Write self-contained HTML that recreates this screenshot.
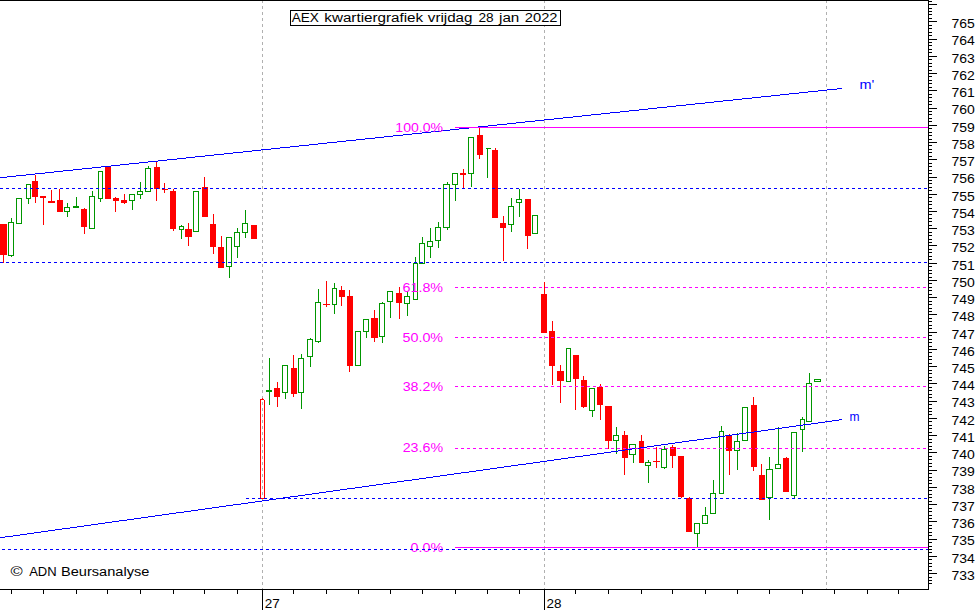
<!DOCTYPE html>
<html><head><meta charset="utf-8"><title>AEX kwartiergrafiek</title>
<style>html,body{margin:0;padding:0;background:#fff;width:979px;height:610px;overflow:hidden}svg{display:block}</style>
</head><body><svg width="979" height="610" viewBox="0 0 979 610" shape-rendering="crispEdges"><rect x="262" y="1" width="1" height="2" fill="#b0b0b0"/><rect x="262" y="6" width="1" height="3" fill="#b0b0b0"/><rect x="262" y="12" width="1" height="3" fill="#b0b0b0"/><rect x="262" y="18" width="1" height="3" fill="#b0b0b0"/><rect x="262" y="24" width="1" height="3" fill="#b0b0b0"/><rect x="262" y="30" width="1" height="3" fill="#b0b0b0"/><rect x="262" y="36" width="1" height="3" fill="#b0b0b0"/><rect x="262" y="42" width="1" height="3" fill="#b0b0b0"/><rect x="262" y="48" width="1" height="3" fill="#b0b0b0"/><rect x="262" y="54" width="1" height="3" fill="#b0b0b0"/><rect x="262" y="60" width="1" height="3" fill="#b0b0b0"/><rect x="262" y="66" width="1" height="3" fill="#b0b0b0"/><rect x="262" y="72" width="1" height="3" fill="#b0b0b0"/><rect x="262" y="78" width="1" height="3" fill="#b0b0b0"/><rect x="262" y="84" width="1" height="3" fill="#b0b0b0"/><rect x="262" y="90" width="1" height="3" fill="#b0b0b0"/><rect x="262" y="96" width="1" height="3" fill="#b0b0b0"/><rect x="262" y="102" width="1" height="3" fill="#b0b0b0"/><rect x="262" y="108" width="1" height="3" fill="#b0b0b0"/><rect x="262" y="114" width="1" height="3" fill="#b0b0b0"/><rect x="262" y="120" width="1" height="3" fill="#b0b0b0"/><rect x="262" y="126" width="1" height="3" fill="#b0b0b0"/><rect x="262" y="132" width="1" height="3" fill="#b0b0b0"/><rect x="262" y="138" width="1" height="3" fill="#b0b0b0"/><rect x="262" y="144" width="1" height="3" fill="#b0b0b0"/><rect x="262" y="150" width="1" height="3" fill="#b0b0b0"/><rect x="262" y="156" width="1" height="3" fill="#b0b0b0"/><rect x="262" y="162" width="1" height="3" fill="#b0b0b0"/><rect x="262" y="168" width="1" height="3" fill="#b0b0b0"/><rect x="262" y="174" width="1" height="3" fill="#b0b0b0"/><rect x="262" y="180" width="1" height="3" fill="#b0b0b0"/><rect x="262" y="186" width="1" height="3" fill="#b0b0b0"/><rect x="262" y="192" width="1" height="3" fill="#b0b0b0"/><rect x="262" y="198" width="1" height="3" fill="#b0b0b0"/><rect x="262" y="204" width="1" height="3" fill="#b0b0b0"/><rect x="262" y="210" width="1" height="3" fill="#b0b0b0"/><rect x="262" y="216" width="1" height="3" fill="#b0b0b0"/><rect x="262" y="222" width="1" height="3" fill="#b0b0b0"/><rect x="262" y="228" width="1" height="3" fill="#b0b0b0"/><rect x="262" y="234" width="1" height="3" fill="#b0b0b0"/><rect x="262" y="240" width="1" height="3" fill="#b0b0b0"/><rect x="262" y="246" width="1" height="3" fill="#b0b0b0"/><rect x="262" y="252" width="1" height="3" fill="#b0b0b0"/><rect x="262" y="258" width="1" height="3" fill="#b0b0b0"/><rect x="262" y="264" width="1" height="3" fill="#b0b0b0"/><rect x="262" y="270" width="1" height="3" fill="#b0b0b0"/><rect x="262" y="276" width="1" height="3" fill="#b0b0b0"/><rect x="262" y="282" width="1" height="3" fill="#b0b0b0"/><rect x="262" y="288" width="1" height="3" fill="#b0b0b0"/><rect x="262" y="294" width="1" height="3" fill="#b0b0b0"/><rect x="262" y="300" width="1" height="3" fill="#b0b0b0"/><rect x="262" y="306" width="1" height="3" fill="#b0b0b0"/><rect x="262" y="312" width="1" height="3" fill="#b0b0b0"/><rect x="262" y="318" width="1" height="3" fill="#b0b0b0"/><rect x="262" y="324" width="1" height="3" fill="#b0b0b0"/><rect x="262" y="330" width="1" height="3" fill="#b0b0b0"/><rect x="262" y="336" width="1" height="3" fill="#b0b0b0"/><rect x="262" y="342" width="1" height="3" fill="#b0b0b0"/><rect x="262" y="348" width="1" height="3" fill="#b0b0b0"/><rect x="262" y="354" width="1" height="3" fill="#b0b0b0"/><rect x="262" y="360" width="1" height="3" fill="#b0b0b0"/><rect x="262" y="366" width="1" height="3" fill="#b0b0b0"/><rect x="262" y="372" width="1" height="3" fill="#b0b0b0"/><rect x="262" y="378" width="1" height="3" fill="#b0b0b0"/><rect x="262" y="384" width="1" height="3" fill="#b0b0b0"/><rect x="262" y="390" width="1" height="3" fill="#b0b0b0"/><rect x="262" y="396" width="1" height="3" fill="#b0b0b0"/><rect x="262" y="402" width="1" height="3" fill="#b0b0b0"/><rect x="262" y="408" width="1" height="3" fill="#b0b0b0"/><rect x="262" y="414" width="1" height="3" fill="#b0b0b0"/><rect x="262" y="420" width="1" height="3" fill="#b0b0b0"/><rect x="262" y="426" width="1" height="3" fill="#b0b0b0"/><rect x="262" y="432" width="1" height="3" fill="#b0b0b0"/><rect x="262" y="438" width="1" height="3" fill="#b0b0b0"/><rect x="262" y="444" width="1" height="3" fill="#b0b0b0"/><rect x="262" y="450" width="1" height="3" fill="#b0b0b0"/><rect x="262" y="456" width="1" height="3" fill="#b0b0b0"/><rect x="262" y="462" width="1" height="3" fill="#b0b0b0"/><rect x="262" y="468" width="1" height="3" fill="#b0b0b0"/><rect x="262" y="474" width="1" height="3" fill="#b0b0b0"/><rect x="262" y="480" width="1" height="3" fill="#b0b0b0"/><rect x="262" y="486" width="1" height="3" fill="#b0b0b0"/><rect x="262" y="492" width="1" height="3" fill="#b0b0b0"/><rect x="262" y="498" width="1" height="3" fill="#b0b0b0"/><rect x="262" y="504" width="1" height="3" fill="#b0b0b0"/><rect x="262" y="510" width="1" height="3" fill="#b0b0b0"/><rect x="262" y="516" width="1" height="3" fill="#b0b0b0"/><rect x="262" y="522" width="1" height="3" fill="#b0b0b0"/><rect x="262" y="528" width="1" height="3" fill="#b0b0b0"/><rect x="262" y="534" width="1" height="3" fill="#b0b0b0"/><rect x="262" y="540" width="1" height="3" fill="#b0b0b0"/><rect x="262" y="546" width="1" height="3" fill="#b0b0b0"/><rect x="262" y="552" width="1" height="3" fill="#b0b0b0"/><rect x="262" y="558" width="1" height="3" fill="#b0b0b0"/><rect x="262" y="564" width="1" height="3" fill="#b0b0b0"/><rect x="262" y="570" width="1" height="3" fill="#b0b0b0"/><rect x="262" y="576" width="1" height="3" fill="#b0b0b0"/><rect x="262" y="582" width="1" height="3" fill="#b0b0b0"/><rect x="262" y="588" width="1" height="1" fill="#b0b0b0"/><rect x="544" y="1" width="1" height="2" fill="#b0b0b0"/><rect x="544" y="6" width="1" height="3" fill="#b0b0b0"/><rect x="544" y="12" width="1" height="3" fill="#b0b0b0"/><rect x="544" y="18" width="1" height="3" fill="#b0b0b0"/><rect x="544" y="24" width="1" height="3" fill="#b0b0b0"/><rect x="544" y="30" width="1" height="3" fill="#b0b0b0"/><rect x="544" y="36" width="1" height="3" fill="#b0b0b0"/><rect x="544" y="42" width="1" height="3" fill="#b0b0b0"/><rect x="544" y="48" width="1" height="3" fill="#b0b0b0"/><rect x="544" y="54" width="1" height="3" fill="#b0b0b0"/><rect x="544" y="60" width="1" height="3" fill="#b0b0b0"/><rect x="544" y="66" width="1" height="3" fill="#b0b0b0"/><rect x="544" y="72" width="1" height="3" fill="#b0b0b0"/><rect x="544" y="78" width="1" height="3" fill="#b0b0b0"/><rect x="544" y="84" width="1" height="3" fill="#b0b0b0"/><rect x="544" y="90" width="1" height="3" fill="#b0b0b0"/><rect x="544" y="96" width="1" height="3" fill="#b0b0b0"/><rect x="544" y="102" width="1" height="3" fill="#b0b0b0"/><rect x="544" y="108" width="1" height="3" fill="#b0b0b0"/><rect x="544" y="114" width="1" height="3" fill="#b0b0b0"/><rect x="544" y="120" width="1" height="3" fill="#b0b0b0"/><rect x="544" y="126" width="1" height="3" fill="#b0b0b0"/><rect x="544" y="132" width="1" height="3" fill="#b0b0b0"/><rect x="544" y="138" width="1" height="3" fill="#b0b0b0"/><rect x="544" y="144" width="1" height="3" fill="#b0b0b0"/><rect x="544" y="150" width="1" height="3" fill="#b0b0b0"/><rect x="544" y="156" width="1" height="3" fill="#b0b0b0"/><rect x="544" y="162" width="1" height="3" fill="#b0b0b0"/><rect x="544" y="168" width="1" height="3" fill="#b0b0b0"/><rect x="544" y="174" width="1" height="3" fill="#b0b0b0"/><rect x="544" y="180" width="1" height="3" fill="#b0b0b0"/><rect x="544" y="186" width="1" height="3" fill="#b0b0b0"/><rect x="544" y="192" width="1" height="3" fill="#b0b0b0"/><rect x="544" y="198" width="1" height="3" fill="#b0b0b0"/><rect x="544" y="204" width="1" height="3" fill="#b0b0b0"/><rect x="544" y="210" width="1" height="3" fill="#b0b0b0"/><rect x="544" y="216" width="1" height="3" fill="#b0b0b0"/><rect x="544" y="222" width="1" height="3" fill="#b0b0b0"/><rect x="544" y="228" width="1" height="3" fill="#b0b0b0"/><rect x="544" y="234" width="1" height="3" fill="#b0b0b0"/><rect x="544" y="240" width="1" height="3" fill="#b0b0b0"/><rect x="544" y="246" width="1" height="3" fill="#b0b0b0"/><rect x="544" y="252" width="1" height="3" fill="#b0b0b0"/><rect x="544" y="258" width="1" height="3" fill="#b0b0b0"/><rect x="544" y="264" width="1" height="3" fill="#b0b0b0"/><rect x="544" y="270" width="1" height="3" fill="#b0b0b0"/><rect x="544" y="276" width="1" height="3" fill="#b0b0b0"/><rect x="544" y="282" width="1" height="3" fill="#b0b0b0"/><rect x="544" y="288" width="1" height="3" fill="#b0b0b0"/><rect x="544" y="294" width="1" height="3" fill="#b0b0b0"/><rect x="544" y="300" width="1" height="3" fill="#b0b0b0"/><rect x="544" y="306" width="1" height="3" fill="#b0b0b0"/><rect x="544" y="312" width="1" height="3" fill="#b0b0b0"/><rect x="544" y="318" width="1" height="3" fill="#b0b0b0"/><rect x="544" y="324" width="1" height="3" fill="#b0b0b0"/><rect x="544" y="330" width="1" height="3" fill="#b0b0b0"/><rect x="544" y="336" width="1" height="3" fill="#b0b0b0"/><rect x="544" y="342" width="1" height="3" fill="#b0b0b0"/><rect x="544" y="348" width="1" height="3" fill="#b0b0b0"/><rect x="544" y="354" width="1" height="3" fill="#b0b0b0"/><rect x="544" y="360" width="1" height="3" fill="#b0b0b0"/><rect x="544" y="366" width="1" height="3" fill="#b0b0b0"/><rect x="544" y="372" width="1" height="3" fill="#b0b0b0"/><rect x="544" y="378" width="1" height="3" fill="#b0b0b0"/><rect x="544" y="384" width="1" height="3" fill="#b0b0b0"/><rect x="544" y="390" width="1" height="3" fill="#b0b0b0"/><rect x="544" y="396" width="1" height="3" fill="#b0b0b0"/><rect x="544" y="402" width="1" height="3" fill="#b0b0b0"/><rect x="544" y="408" width="1" height="3" fill="#b0b0b0"/><rect x="544" y="414" width="1" height="3" fill="#b0b0b0"/><rect x="544" y="420" width="1" height="3" fill="#b0b0b0"/><rect x="544" y="426" width="1" height="3" fill="#b0b0b0"/><rect x="544" y="432" width="1" height="3" fill="#b0b0b0"/><rect x="544" y="438" width="1" height="3" fill="#b0b0b0"/><rect x="544" y="444" width="1" height="3" fill="#b0b0b0"/><rect x="544" y="450" width="1" height="3" fill="#b0b0b0"/><rect x="544" y="456" width="1" height="3" fill="#b0b0b0"/><rect x="544" y="462" width="1" height="3" fill="#b0b0b0"/><rect x="544" y="468" width="1" height="3" fill="#b0b0b0"/><rect x="544" y="474" width="1" height="3" fill="#b0b0b0"/><rect x="544" y="480" width="1" height="3" fill="#b0b0b0"/><rect x="544" y="486" width="1" height="3" fill="#b0b0b0"/><rect x="544" y="492" width="1" height="3" fill="#b0b0b0"/><rect x="544" y="498" width="1" height="3" fill="#b0b0b0"/><rect x="544" y="504" width="1" height="3" fill="#b0b0b0"/><rect x="544" y="510" width="1" height="3" fill="#b0b0b0"/><rect x="544" y="516" width="1" height="3" fill="#b0b0b0"/><rect x="544" y="522" width="1" height="3" fill="#b0b0b0"/><rect x="544" y="528" width="1" height="3" fill="#b0b0b0"/><rect x="544" y="534" width="1" height="3" fill="#b0b0b0"/><rect x="544" y="540" width="1" height="3" fill="#b0b0b0"/><rect x="544" y="546" width="1" height="3" fill="#b0b0b0"/><rect x="544" y="552" width="1" height="3" fill="#b0b0b0"/><rect x="544" y="558" width="1" height="3" fill="#b0b0b0"/><rect x="544" y="564" width="1" height="3" fill="#b0b0b0"/><rect x="544" y="570" width="1" height="3" fill="#b0b0b0"/><rect x="544" y="576" width="1" height="3" fill="#b0b0b0"/><rect x="544" y="582" width="1" height="3" fill="#b0b0b0"/><rect x="544" y="588" width="1" height="1" fill="#b0b0b0"/><rect x="826" y="1" width="1" height="2" fill="#b0b0b0"/><rect x="826" y="6" width="1" height="3" fill="#b0b0b0"/><rect x="826" y="12" width="1" height="3" fill="#b0b0b0"/><rect x="826" y="18" width="1" height="3" fill="#b0b0b0"/><rect x="826" y="24" width="1" height="3" fill="#b0b0b0"/><rect x="826" y="30" width="1" height="3" fill="#b0b0b0"/><rect x="826" y="36" width="1" height="3" fill="#b0b0b0"/><rect x="826" y="42" width="1" height="3" fill="#b0b0b0"/><rect x="826" y="48" width="1" height="3" fill="#b0b0b0"/><rect x="826" y="54" width="1" height="3" fill="#b0b0b0"/><rect x="826" y="60" width="1" height="3" fill="#b0b0b0"/><rect x="826" y="66" width="1" height="3" fill="#b0b0b0"/><rect x="826" y="72" width="1" height="3" fill="#b0b0b0"/><rect x="826" y="78" width="1" height="3" fill="#b0b0b0"/><rect x="826" y="84" width="1" height="3" fill="#b0b0b0"/><rect x="826" y="90" width="1" height="3" fill="#b0b0b0"/><rect x="826" y="96" width="1" height="3" fill="#b0b0b0"/><rect x="826" y="102" width="1" height="3" fill="#b0b0b0"/><rect x="826" y="108" width="1" height="3" fill="#b0b0b0"/><rect x="826" y="114" width="1" height="3" fill="#b0b0b0"/><rect x="826" y="120" width="1" height="3" fill="#b0b0b0"/><rect x="826" y="126" width="1" height="3" fill="#b0b0b0"/><rect x="826" y="132" width="1" height="3" fill="#b0b0b0"/><rect x="826" y="138" width="1" height="3" fill="#b0b0b0"/><rect x="826" y="144" width="1" height="3" fill="#b0b0b0"/><rect x="826" y="150" width="1" height="3" fill="#b0b0b0"/><rect x="826" y="156" width="1" height="3" fill="#b0b0b0"/><rect x="826" y="162" width="1" height="3" fill="#b0b0b0"/><rect x="826" y="168" width="1" height="3" fill="#b0b0b0"/><rect x="826" y="174" width="1" height="3" fill="#b0b0b0"/><rect x="826" y="180" width="1" height="3" fill="#b0b0b0"/><rect x="826" y="186" width="1" height="3" fill="#b0b0b0"/><rect x="826" y="192" width="1" height="3" fill="#b0b0b0"/><rect x="826" y="198" width="1" height="3" fill="#b0b0b0"/><rect x="826" y="204" width="1" height="3" fill="#b0b0b0"/><rect x="826" y="210" width="1" height="3" fill="#b0b0b0"/><rect x="826" y="216" width="1" height="3" fill="#b0b0b0"/><rect x="826" y="222" width="1" height="3" fill="#b0b0b0"/><rect x="826" y="228" width="1" height="3" fill="#b0b0b0"/><rect x="826" y="234" width="1" height="3" fill="#b0b0b0"/><rect x="826" y="240" width="1" height="3" fill="#b0b0b0"/><rect x="826" y="246" width="1" height="3" fill="#b0b0b0"/><rect x="826" y="252" width="1" height="3" fill="#b0b0b0"/><rect x="826" y="258" width="1" height="3" fill="#b0b0b0"/><rect x="826" y="264" width="1" height="3" fill="#b0b0b0"/><rect x="826" y="270" width="1" height="3" fill="#b0b0b0"/><rect x="826" y="276" width="1" height="3" fill="#b0b0b0"/><rect x="826" y="282" width="1" height="3" fill="#b0b0b0"/><rect x="826" y="288" width="1" height="3" fill="#b0b0b0"/><rect x="826" y="294" width="1" height="3" fill="#b0b0b0"/><rect x="826" y="300" width="1" height="3" fill="#b0b0b0"/><rect x="826" y="306" width="1" height="3" fill="#b0b0b0"/><rect x="826" y="312" width="1" height="3" fill="#b0b0b0"/><rect x="826" y="318" width="1" height="3" fill="#b0b0b0"/><rect x="826" y="324" width="1" height="3" fill="#b0b0b0"/><rect x="826" y="330" width="1" height="3" fill="#b0b0b0"/><rect x="826" y="336" width="1" height="3" fill="#b0b0b0"/><rect x="826" y="342" width="1" height="3" fill="#b0b0b0"/><rect x="826" y="348" width="1" height="3" fill="#b0b0b0"/><rect x="826" y="354" width="1" height="3" fill="#b0b0b0"/><rect x="826" y="360" width="1" height="3" fill="#b0b0b0"/><rect x="826" y="366" width="1" height="3" fill="#b0b0b0"/><rect x="826" y="372" width="1" height="3" fill="#b0b0b0"/><rect x="826" y="378" width="1" height="3" fill="#b0b0b0"/><rect x="826" y="384" width="1" height="3" fill="#b0b0b0"/><rect x="826" y="390" width="1" height="3" fill="#b0b0b0"/><rect x="826" y="396" width="1" height="3" fill="#b0b0b0"/><rect x="826" y="402" width="1" height="3" fill="#b0b0b0"/><rect x="826" y="408" width="1" height="3" fill="#b0b0b0"/><rect x="826" y="414" width="1" height="3" fill="#b0b0b0"/><rect x="826" y="420" width="1" height="3" fill="#b0b0b0"/><rect x="826" y="426" width="1" height="3" fill="#b0b0b0"/><rect x="826" y="432" width="1" height="3" fill="#b0b0b0"/><rect x="826" y="438" width="1" height="3" fill="#b0b0b0"/><rect x="826" y="444" width="1" height="3" fill="#b0b0b0"/><rect x="826" y="450" width="1" height="3" fill="#b0b0b0"/><rect x="826" y="456" width="1" height="3" fill="#b0b0b0"/><rect x="826" y="462" width="1" height="3" fill="#b0b0b0"/><rect x="826" y="468" width="1" height="3" fill="#b0b0b0"/><rect x="826" y="474" width="1" height="3" fill="#b0b0b0"/><rect x="826" y="480" width="1" height="3" fill="#b0b0b0"/><rect x="826" y="486" width="1" height="3" fill="#b0b0b0"/><rect x="826" y="492" width="1" height="3" fill="#b0b0b0"/><rect x="826" y="498" width="1" height="3" fill="#b0b0b0"/><rect x="826" y="504" width="1" height="3" fill="#b0b0b0"/><rect x="826" y="510" width="1" height="3" fill="#b0b0b0"/><rect x="826" y="516" width="1" height="3" fill="#b0b0b0"/><rect x="826" y="522" width="1" height="3" fill="#b0b0b0"/><rect x="826" y="528" width="1" height="3" fill="#b0b0b0"/><rect x="826" y="534" width="1" height="3" fill="#b0b0b0"/><rect x="826" y="540" width="1" height="3" fill="#b0b0b0"/><rect x="826" y="546" width="1" height="3" fill="#b0b0b0"/><rect x="826" y="552" width="1" height="3" fill="#b0b0b0"/><rect x="826" y="558" width="1" height="3" fill="#b0b0b0"/><rect x="826" y="564" width="1" height="3" fill="#b0b0b0"/><rect x="826" y="570" width="1" height="3" fill="#b0b0b0"/><rect x="826" y="576" width="1" height="3" fill="#b0b0b0"/><rect x="826" y="582" width="1" height="3" fill="#b0b0b0"/><rect x="826" y="588" width="1" height="1" fill="#b0b0b0"/><rect x="3" y="255" width="1" height="8" fill="#ff0000"/><rect x="0" y="224" width="7" height="31" fill="#ff0000"/><rect x="11" y="218" width="1" height="4" fill="#009600"/><rect x="11" y="256" width="1" height="1" fill="#009600"/><rect x="8" y="222" width="6" height="1" fill="#009600"/><rect x="8" y="255" width="6" height="1" fill="#009600"/><rect x="8" y="223" width="1" height="32" fill="#009600"/><rect x="13" y="223" width="1" height="32" fill="#009600"/><rect x="16" y="198" width="6" height="1" fill="#009600"/><rect x="16" y="223" width="6" height="1" fill="#009600"/><rect x="16" y="199" width="1" height="24" fill="#009600"/><rect x="21" y="199" width="1" height="24" fill="#009600"/><rect x="28" y="199" width="1" height="5" fill="#009600"/><rect x="26" y="184" width="5" height="1" fill="#009600"/><rect x="26" y="198" width="5" height="1" fill="#009600"/><rect x="26" y="185" width="1" height="13" fill="#009600"/><rect x="30" y="185" width="1" height="13" fill="#009600"/><rect x="35" y="175" width="1" height="6" fill="#ff0000"/><rect x="35" y="197" width="1" height="6" fill="#ff0000"/><rect x="32" y="181" width="6" height="16" fill="#ff0000"/><rect x="43" y="198" width="1" height="27" fill="#ff0000"/><rect x="40" y="196" width="6" height="2" fill="#ff0000"/><rect x="51" y="190" width="1" height="11" fill="#ff0000"/><rect x="48" y="201" width="7" height="2" fill="#ff0000"/><rect x="59" y="189" width="1" height="11" fill="#ff0000"/><rect x="57" y="200" width="6" height="12" fill="#ff0000"/><rect x="67" y="203" width="1" height="4" fill="#009600"/><rect x="67" y="212" width="1" height="5" fill="#009600"/><rect x="64" y="207" width="6" height="1" fill="#009600"/><rect x="64" y="211" width="6" height="1" fill="#009600"/><rect x="64" y="208" width="1" height="3" fill="#009600"/><rect x="69" y="208" width="1" height="3" fill="#009600"/><rect x="76" y="197" width="1" height="9" fill="#009600"/><rect x="73" y="206" width="6" height="2" fill="#009600"/><rect x="84" y="208" width="1" height="1" fill="#ff0000"/><rect x="84" y="227" width="1" height="7" fill="#ff0000"/><rect x="81" y="209" width="6" height="18" fill="#ff0000"/><rect x="92" y="191" width="1" height="5" fill="#009600"/><rect x="89" y="196" width="6" height="1" fill="#009600"/><rect x="89" y="228" width="6" height="1" fill="#009600"/><rect x="89" y="197" width="1" height="31" fill="#009600"/><rect x="94" y="197" width="1" height="31" fill="#009600"/><rect x="100" y="199" width="1" height="3" fill="#009600"/><rect x="98" y="171" width="5" height="1" fill="#009600"/><rect x="98" y="198" width="5" height="1" fill="#009600"/><rect x="98" y="172" width="1" height="26" fill="#009600"/><rect x="102" y="172" width="1" height="26" fill="#009600"/><rect x="105" y="166" width="6" height="33" fill="#ff0000"/><rect x="115" y="197" width="1" height="1" fill="#ff0000"/><rect x="115" y="201" width="1" height="11" fill="#ff0000"/><rect x="113" y="198" width="6" height="3" fill="#ff0000"/><rect x="124" y="194" width="1" height="6" fill="#ff0000"/><rect x="124" y="203" width="1" height="1" fill="#ff0000"/><rect x="121" y="200" width="6" height="3" fill="#ff0000"/><rect x="132" y="201" width="1" height="9" fill="#009600"/><rect x="129" y="194" width="6" height="1" fill="#009600"/><rect x="129" y="200" width="6" height="1" fill="#009600"/><rect x="129" y="195" width="1" height="5" fill="#009600"/><rect x="134" y="195" width="1" height="5" fill="#009600"/><rect x="140" y="182" width="1" height="9" fill="#009600"/><rect x="140" y="195" width="1" height="4" fill="#009600"/><rect x="137" y="191" width="6" height="1" fill="#009600"/><rect x="137" y="194" width="6" height="1" fill="#009600"/><rect x="137" y="192" width="1" height="2" fill="#009600"/><rect x="142" y="192" width="1" height="2" fill="#009600"/><rect x="148" y="166" width="1" height="2" fill="#009600"/><rect x="145" y="168" width="6" height="1" fill="#009600"/><rect x="145" y="191" width="6" height="1" fill="#009600"/><rect x="145" y="169" width="1" height="22" fill="#009600"/><rect x="150" y="169" width="1" height="22" fill="#009600"/><rect x="156" y="161" width="1" height="6" fill="#ff0000"/><rect x="156" y="189" width="1" height="12" fill="#ff0000"/><rect x="154" y="167" width="6" height="22" fill="#ff0000"/><rect x="164" y="183" width="1" height="6" fill="#ff0000"/><rect x="164" y="190" width="1" height="3" fill="#ff0000"/><rect x="162" y="189" width="6" height="1" fill="#ff0000"/><rect x="173" y="189" width="1" height="2" fill="#ff0000"/><rect x="173" y="229" width="1" height="2" fill="#ff0000"/><rect x="170" y="191" width="6" height="38" fill="#ff0000"/><rect x="181" y="225" width="1" height="1" fill="#009600"/><rect x="181" y="230" width="1" height="9" fill="#009600"/><rect x="179" y="226" width="5" height="1" fill="#009600"/><rect x="179" y="229" width="5" height="1" fill="#009600"/><rect x="179" y="227" width="1" height="2" fill="#009600"/><rect x="183" y="227" width="1" height="2" fill="#009600"/><rect x="188" y="223" width="1" height="6" fill="#ff0000"/><rect x="188" y="237" width="1" height="9" fill="#ff0000"/><rect x="185" y="229" width="7" height="8" fill="#ff0000"/><rect x="193" y="191" width="6" height="1" fill="#009600"/><rect x="193" y="231" width="6" height="1" fill="#009600"/><rect x="193" y="192" width="1" height="39" fill="#009600"/><rect x="198" y="192" width="1" height="39" fill="#009600"/><rect x="204" y="177" width="1" height="10" fill="#ff0000"/><rect x="202" y="187" width="6" height="30" fill="#ff0000"/><rect x="213" y="214" width="1" height="10" fill="#ff0000"/><rect x="213" y="247" width="1" height="7" fill="#ff0000"/><rect x="210" y="224" width="6" height="23" fill="#ff0000"/><rect x="221" y="236" width="1" height="11" fill="#ff0000"/><rect x="218" y="247" width="6" height="21" fill="#ff0000"/><rect x="229" y="267" width="1" height="11" fill="#009600"/><rect x="226" y="237" width="6" height="1" fill="#009600"/><rect x="226" y="266" width="6" height="1" fill="#009600"/><rect x="226" y="238" width="1" height="28" fill="#009600"/><rect x="231" y="238" width="1" height="28" fill="#009600"/><rect x="237" y="228" width="1" height="4" fill="#009600"/><rect x="237" y="247" width="1" height="11" fill="#009600"/><rect x="234" y="232" width="6" height="1" fill="#009600"/><rect x="234" y="246" width="6" height="1" fill="#009600"/><rect x="234" y="233" width="1" height="13" fill="#009600"/><rect x="239" y="233" width="1" height="13" fill="#009600"/><rect x="245" y="210" width="1" height="13" fill="#009600"/><rect x="245" y="233" width="1" height="5" fill="#009600"/><rect x="242" y="223" width="6" height="1" fill="#009600"/><rect x="242" y="232" width="6" height="1" fill="#009600"/><rect x="242" y="224" width="1" height="8" fill="#009600"/><rect x="247" y="224" width="1" height="8" fill="#009600"/><rect x="251" y="225" width="6" height="14" fill="#ff0000"/><rect x="269" y="358" width="1" height="32" fill="#009600"/><rect x="269" y="392" width="1" height="13" fill="#009600"/><rect x="266" y="390" width="6" height="2" fill="#009600"/><rect x="277" y="382" width="1" height="6" fill="#ff0000"/><rect x="277" y="397" width="1" height="10" fill="#ff0000"/><rect x="274" y="388" width="6" height="9" fill="#ff0000"/><rect x="285" y="393" width="1" height="6" fill="#009600"/><rect x="282" y="365" width="6" height="1" fill="#009600"/><rect x="282" y="392" width="6" height="1" fill="#009600"/><rect x="282" y="366" width="1" height="26" fill="#009600"/><rect x="287" y="366" width="1" height="26" fill="#009600"/><rect x="293" y="355" width="1" height="13" fill="#ff0000"/><rect x="293" y="394" width="1" height="3" fill="#ff0000"/><rect x="291" y="368" width="6" height="26" fill="#ff0000"/><rect x="301" y="354" width="1" height="4" fill="#009600"/><rect x="301" y="393" width="1" height="16" fill="#009600"/><rect x="298" y="358" width="6" height="1" fill="#009600"/><rect x="298" y="392" width="6" height="1" fill="#009600"/><rect x="298" y="359" width="1" height="33" fill="#009600"/><rect x="303" y="359" width="1" height="33" fill="#009600"/><rect x="310" y="338" width="1" height="1" fill="#009600"/><rect x="310" y="357" width="1" height="10" fill="#009600"/><rect x="307" y="339" width="6" height="1" fill="#009600"/><rect x="307" y="356" width="6" height="1" fill="#009600"/><rect x="307" y="340" width="1" height="16" fill="#009600"/><rect x="312" y="340" width="1" height="16" fill="#009600"/><rect x="318" y="289" width="1" height="13" fill="#009600"/><rect x="318" y="342" width="1" height="1" fill="#009600"/><rect x="315" y="302" width="6" height="1" fill="#009600"/><rect x="315" y="341" width="6" height="1" fill="#009600"/><rect x="315" y="303" width="1" height="38" fill="#009600"/><rect x="320" y="303" width="1" height="38" fill="#009600"/><rect x="326" y="281" width="1" height="23" fill="#ff0000"/><rect x="326" y="305" width="1" height="2" fill="#ff0000"/><rect x="323" y="304" width="7" height="1" fill="#ff0000"/><rect x="334" y="283" width="1" height="5" fill="#009600"/><rect x="334" y="305" width="1" height="9" fill="#009600"/><rect x="332" y="288" width="5" height="1" fill="#009600"/><rect x="332" y="304" width="5" height="1" fill="#009600"/><rect x="332" y="289" width="1" height="15" fill="#009600"/><rect x="336" y="289" width="1" height="15" fill="#009600"/><rect x="341" y="286" width="1" height="4" fill="#ff0000"/><rect x="341" y="297" width="1" height="9" fill="#ff0000"/><rect x="339" y="290" width="6" height="7" fill="#ff0000"/><rect x="349" y="290" width="1" height="6" fill="#ff0000"/><rect x="349" y="366" width="1" height="6" fill="#ff0000"/><rect x="347" y="296" width="6" height="70" fill="#ff0000"/><rect x="355" y="331" width="6" height="1" fill="#009600"/><rect x="355" y="365" width="6" height="1" fill="#009600"/><rect x="355" y="332" width="1" height="33" fill="#009600"/><rect x="360" y="332" width="1" height="33" fill="#009600"/><rect x="366" y="332" width="1" height="6" fill="#009600"/><rect x="363" y="319" width="6" height="1" fill="#009600"/><rect x="363" y="331" width="6" height="1" fill="#009600"/><rect x="363" y="320" width="1" height="11" fill="#009600"/><rect x="368" y="320" width="1" height="11" fill="#009600"/><rect x="374" y="310" width="1" height="8" fill="#ff0000"/><rect x="374" y="338" width="1" height="4" fill="#ff0000"/><rect x="371" y="318" width="7" height="20" fill="#ff0000"/><rect x="382" y="302" width="1" height="1" fill="#009600"/><rect x="382" y="337" width="1" height="6" fill="#009600"/><rect x="379" y="303" width="6" height="1" fill="#009600"/><rect x="379" y="336" width="6" height="1" fill="#009600"/><rect x="379" y="304" width="1" height="32" fill="#009600"/><rect x="384" y="304" width="1" height="32" fill="#009600"/><rect x="390" y="302" width="1" height="16" fill="#009600"/><rect x="387" y="291" width="6" height="1" fill="#009600"/><rect x="387" y="301" width="6" height="1" fill="#009600"/><rect x="387" y="292" width="1" height="9" fill="#009600"/><rect x="392" y="292" width="1" height="9" fill="#009600"/><rect x="399" y="287" width="1" height="6" fill="#ff0000"/><rect x="399" y="303" width="1" height="16" fill="#ff0000"/><rect x="396" y="293" width="6" height="10" fill="#ff0000"/><rect x="407" y="291" width="1" height="5" fill="#009600"/><rect x="407" y="304" width="1" height="12" fill="#009600"/><rect x="404" y="296" width="6" height="1" fill="#009600"/><rect x="404" y="303" width="6" height="1" fill="#009600"/><rect x="404" y="297" width="1" height="6" fill="#009600"/><rect x="409" y="297" width="1" height="6" fill="#009600"/><rect x="415" y="257" width="1" height="6" fill="#009600"/><rect x="413" y="263" width="5" height="1" fill="#009600"/><rect x="413" y="299" width="5" height="1" fill="#009600"/><rect x="413" y="264" width="1" height="35" fill="#009600"/><rect x="417" y="264" width="1" height="35" fill="#009600"/><rect x="422" y="237" width="1" height="6" fill="#009600"/><rect x="419" y="243" width="6" height="1" fill="#009600"/><rect x="419" y="263" width="6" height="1" fill="#009600"/><rect x="419" y="244" width="1" height="19" fill="#009600"/><rect x="424" y="244" width="1" height="19" fill="#009600"/><rect x="430" y="228" width="1" height="13" fill="#009600"/><rect x="430" y="247" width="1" height="11" fill="#009600"/><rect x="427" y="241" width="6" height="1" fill="#009600"/><rect x="427" y="246" width="6" height="1" fill="#009600"/><rect x="427" y="242" width="1" height="4" fill="#009600"/><rect x="432" y="242" width="1" height="4" fill="#009600"/><rect x="438" y="222" width="1" height="5" fill="#009600"/><rect x="438" y="241" width="1" height="7" fill="#009600"/><rect x="435" y="227" width="6" height="1" fill="#009600"/><rect x="435" y="240" width="6" height="1" fill="#009600"/><rect x="435" y="228" width="1" height="12" fill="#009600"/><rect x="440" y="228" width="1" height="12" fill="#009600"/><rect x="447" y="182" width="1" height="2" fill="#009600"/><rect x="447" y="228" width="1" height="2" fill="#009600"/><rect x="443" y="184" width="7" height="1" fill="#009600"/><rect x="443" y="227" width="7" height="1" fill="#009600"/><rect x="443" y="185" width="1" height="42" fill="#009600"/><rect x="449" y="185" width="1" height="42" fill="#009600"/><rect x="455" y="185" width="1" height="16" fill="#009600"/><rect x="452" y="173" width="6" height="1" fill="#009600"/><rect x="452" y="184" width="6" height="1" fill="#009600"/><rect x="452" y="174" width="1" height="10" fill="#009600"/><rect x="457" y="174" width="1" height="10" fill="#009600"/><rect x="463" y="169" width="1" height="4" fill="#ff0000"/><rect x="463" y="175" width="1" height="14" fill="#ff0000"/><rect x="460" y="173" width="6" height="2" fill="#ff0000"/><rect x="471" y="174" width="1" height="13" fill="#009600"/><rect x="468" y="137" width="6" height="1" fill="#009600"/><rect x="468" y="173" width="6" height="1" fill="#009600"/><rect x="468" y="138" width="1" height="35" fill="#009600"/><rect x="473" y="138" width="1" height="35" fill="#009600"/><rect x="479" y="128" width="1" height="7" fill="#ff0000"/><rect x="479" y="155" width="1" height="4" fill="#ff0000"/><rect x="477" y="135" width="6" height="20" fill="#ff0000"/><rect x="487" y="148" width="1" height="30" fill="#009600"/><rect x="486" y="148" width="5" height="1" fill="#009600"/><rect x="495" y="148" width="1" height="2" fill="#ff0000"/><rect x="492" y="150" width="6" height="68" fill="#ff0000"/><rect x="503" y="216" width="1" height="7" fill="#ff0000"/><rect x="503" y="228" width="1" height="33" fill="#ff0000"/><rect x="500" y="223" width="6" height="5" fill="#ff0000"/><rect x="511" y="198" width="1" height="8" fill="#009600"/><rect x="511" y="225" width="1" height="7" fill="#009600"/><rect x="508" y="206" width="6" height="1" fill="#009600"/><rect x="508" y="224" width="6" height="1" fill="#009600"/><rect x="508" y="207" width="1" height="17" fill="#009600"/><rect x="513" y="207" width="1" height="17" fill="#009600"/><rect x="519" y="189" width="1" height="10" fill="#009600"/><rect x="519" y="203" width="1" height="14" fill="#009600"/><rect x="516" y="199" width="6" height="1" fill="#009600"/><rect x="516" y="202" width="6" height="1" fill="#009600"/><rect x="516" y="200" width="1" height="2" fill="#009600"/><rect x="521" y="200" width="1" height="2" fill="#009600"/><rect x="527" y="236" width="1" height="13" fill="#ff0000"/><rect x="525" y="199" width="6" height="37" fill="#ff0000"/><rect x="532" y="215" width="6" height="1" fill="#009600"/><rect x="532" y="233" width="6" height="1" fill="#009600"/><rect x="532" y="216" width="1" height="17" fill="#009600"/><rect x="537" y="216" width="1" height="17" fill="#009600"/><rect x="544" y="282" width="1" height="12" fill="#ff0000"/><rect x="541" y="294" width="6" height="39" fill="#ff0000"/><rect x="552" y="321" width="1" height="10" fill="#ff0000"/><rect x="552" y="366" width="1" height="19" fill="#ff0000"/><rect x="549" y="331" width="6" height="35" fill="#ff0000"/><rect x="560" y="365" width="1" height="6" fill="#ff0000"/><rect x="560" y="381" width="1" height="22" fill="#ff0000"/><rect x="557" y="371" width="7" height="10" fill="#ff0000"/><rect x="566" y="348" width="5" height="1" fill="#009600"/><rect x="566" y="381" width="5" height="1" fill="#009600"/><rect x="566" y="349" width="1" height="32" fill="#009600"/><rect x="570" y="349" width="1" height="32" fill="#009600"/><rect x="575" y="379" width="1" height="31" fill="#ff0000"/><rect x="573" y="355" width="6" height="24" fill="#ff0000"/><rect x="583" y="376" width="1" height="4" fill="#ff0000"/><rect x="583" y="407" width="1" height="1" fill="#ff0000"/><rect x="581" y="380" width="6" height="27" fill="#ff0000"/><rect x="592" y="411" width="1" height="6" fill="#009600"/><rect x="589" y="388" width="6" height="1" fill="#009600"/><rect x="589" y="410" width="6" height="1" fill="#009600"/><rect x="589" y="389" width="1" height="21" fill="#009600"/><rect x="594" y="389" width="1" height="21" fill="#009600"/><rect x="600" y="384" width="1" height="3" fill="#ff0000"/><rect x="600" y="405" width="1" height="15" fill="#ff0000"/><rect x="597" y="387" width="6" height="18" fill="#ff0000"/><rect x="608" y="441" width="1" height="8" fill="#ff0000"/><rect x="605" y="406" width="7" height="35" fill="#ff0000"/><rect x="616" y="427" width="1" height="8" fill="#009600"/><rect x="616" y="441" width="1" height="13" fill="#009600"/><rect x="613" y="435" width="6" height="1" fill="#009600"/><rect x="613" y="440" width="6" height="1" fill="#009600"/><rect x="613" y="436" width="1" height="4" fill="#009600"/><rect x="618" y="436" width="1" height="4" fill="#009600"/><rect x="624" y="431" width="1" height="4" fill="#ff0000"/><rect x="624" y="458" width="1" height="17" fill="#ff0000"/><rect x="622" y="435" width="6" height="23" fill="#ff0000"/><rect x="633" y="455" width="1" height="8" fill="#009600"/><rect x="629" y="444" width="7" height="1" fill="#009600"/><rect x="629" y="454" width="7" height="1" fill="#009600"/><rect x="629" y="445" width="1" height="9" fill="#009600"/><rect x="635" y="445" width="1" height="9" fill="#009600"/><rect x="641" y="435" width="1" height="6" fill="#ff0000"/><rect x="639" y="441" width="5" height="22" fill="#ff0000"/><rect x="648" y="460" width="1" height="2" fill="#009600"/><rect x="648" y="466" width="1" height="17" fill="#009600"/><rect x="645" y="462" width="6" height="1" fill="#009600"/><rect x="645" y="465" width="6" height="1" fill="#009600"/><rect x="645" y="463" width="1" height="2" fill="#009600"/><rect x="650" y="463" width="1" height="2" fill="#009600"/><rect x="656" y="447" width="1" height="14" fill="#ff0000"/><rect x="656" y="462" width="1" height="6" fill="#ff0000"/><rect x="653" y="461" width="7" height="1" fill="#ff0000"/><rect x="664" y="446" width="1" height="3" fill="#009600"/><rect x="664" y="468" width="1" height="1" fill="#009600"/><rect x="661" y="449" width="6" height="1" fill="#009600"/><rect x="661" y="467" width="6" height="1" fill="#009600"/><rect x="661" y="450" width="1" height="17" fill="#009600"/><rect x="666" y="450" width="1" height="17" fill="#009600"/><rect x="672" y="445" width="1" height="2" fill="#ff0000"/><rect x="672" y="456" width="1" height="12" fill="#ff0000"/><rect x="670" y="447" width="6" height="9" fill="#ff0000"/><rect x="681" y="497" width="1" height="1" fill="#ff0000"/><rect x="678" y="456" width="6" height="41" fill="#ff0000"/><rect x="689" y="497" width="1" height="1" fill="#ff0000"/><rect x="686" y="498" width="6" height="34" fill="#ff0000"/><rect x="697" y="534" width="1" height="14" fill="#009600"/><rect x="694" y="523" width="6" height="1" fill="#009600"/><rect x="694" y="533" width="6" height="1" fill="#009600"/><rect x="694" y="524" width="1" height="9" fill="#009600"/><rect x="699" y="524" width="1" height="9" fill="#009600"/><rect x="705" y="507" width="1" height="8" fill="#009600"/><rect x="702" y="515" width="6" height="1" fill="#009600"/><rect x="702" y="523" width="6" height="1" fill="#009600"/><rect x="702" y="516" width="1" height="7" fill="#009600"/><rect x="707" y="516" width="1" height="7" fill="#009600"/><rect x="713" y="480" width="1" height="13" fill="#009600"/><rect x="710" y="493" width="6" height="1" fill="#009600"/><rect x="710" y="513" width="6" height="1" fill="#009600"/><rect x="710" y="494" width="1" height="19" fill="#009600"/><rect x="715" y="494" width="1" height="19" fill="#009600"/><rect x="721" y="426" width="1" height="5" fill="#009600"/><rect x="719" y="431" width="5" height="1" fill="#009600"/><rect x="719" y="493" width="5" height="1" fill="#009600"/><rect x="719" y="432" width="1" height="61" fill="#009600"/><rect x="723" y="432" width="1" height="61" fill="#009600"/><rect x="729" y="434" width="1" height="1" fill="#ff0000"/><rect x="729" y="451" width="1" height="24" fill="#ff0000"/><rect x="726" y="435" width="6" height="16" fill="#ff0000"/><rect x="737" y="433" width="1" height="8" fill="#009600"/><rect x="737" y="451" width="1" height="19" fill="#009600"/><rect x="734" y="441" width="6" height="1" fill="#009600"/><rect x="734" y="450" width="6" height="1" fill="#009600"/><rect x="734" y="442" width="1" height="8" fill="#009600"/><rect x="739" y="442" width="1" height="8" fill="#009600"/><rect x="742" y="407" width="6" height="1" fill="#009600"/><rect x="742" y="440" width="6" height="1" fill="#009600"/><rect x="742" y="408" width="1" height="32" fill="#009600"/><rect x="747" y="408" width="1" height="32" fill="#009600"/><rect x="753" y="397" width="1" height="8" fill="#ff0000"/><rect x="753" y="467" width="1" height="4" fill="#ff0000"/><rect x="751" y="405" width="6" height="62" fill="#ff0000"/><rect x="761" y="464" width="1" height="11" fill="#ff0000"/><rect x="759" y="475" width="6" height="25" fill="#ff0000"/><rect x="769" y="457" width="1" height="12" fill="#009600"/><rect x="769" y="498" width="1" height="22" fill="#009600"/><rect x="766" y="469" width="7" height="1" fill="#009600"/><rect x="766" y="497" width="7" height="1" fill="#009600"/><rect x="766" y="470" width="1" height="27" fill="#009600"/><rect x="772" y="470" width="1" height="27" fill="#009600"/><rect x="778" y="427" width="1" height="37" fill="#009600"/><rect x="775" y="464" width="6" height="1" fill="#009600"/><rect x="775" y="468" width="6" height="1" fill="#009600"/><rect x="775" y="465" width="1" height="3" fill="#009600"/><rect x="780" y="465" width="1" height="3" fill="#009600"/><rect x="786" y="457" width="1" height="1" fill="#ff0000"/><rect x="783" y="458" width="6" height="34" fill="#ff0000"/><rect x="794" y="496" width="1" height="3" fill="#009600"/><rect x="791" y="432" width="6" height="1" fill="#009600"/><rect x="791" y="495" width="6" height="1" fill="#009600"/><rect x="791" y="433" width="1" height="62" fill="#009600"/><rect x="796" y="433" width="1" height="62" fill="#009600"/><rect x="802" y="417" width="1" height="2" fill="#009600"/><rect x="802" y="430" width="1" height="22" fill="#009600"/><rect x="800" y="419" width="5" height="1" fill="#009600"/><rect x="800" y="429" width="5" height="1" fill="#009600"/><rect x="800" y="420" width="1" height="9" fill="#009600"/><rect x="804" y="420" width="1" height="9" fill="#009600"/><rect x="809" y="373" width="1" height="10" fill="#009600"/><rect x="806" y="383" width="6" height="1" fill="#009600"/><rect x="806" y="421" width="6" height="1" fill="#009600"/><rect x="806" y="384" width="1" height="37" fill="#009600"/><rect x="811" y="384" width="1" height="37" fill="#009600"/><rect x="814" y="379" width="7" height="1" fill="#009600"/><rect x="814" y="381" width="7" height="1" fill="#009600"/><rect x="814" y="380" width="1" height="1" fill="#009600"/><rect x="820" y="380" width="1" height="1" fill="#009600"/><rect x="262" y="398" width="1" height="1" fill="#ff0000"/><rect x="260" y="399" width="4" height="1" fill="#ff0000"/><rect x="260" y="498" width="5" height="1" fill="#ff0000"/><rect x="260" y="400" width="1" height="98" fill="#ff0000"/><rect x="264" y="400" width="1" height="98" fill="#ff0000"/><rect x="0" y="177" width="7" height="1" fill="#0000ff"/><rect x="7" y="176" width="9" height="1" fill="#0000ff"/><rect x="16" y="175" width="10" height="1" fill="#0000ff"/><rect x="26" y="174" width="9" height="1" fill="#0000ff"/><rect x="35" y="173" width="10" height="1" fill="#0000ff"/><rect x="45" y="172" width="9" height="1" fill="#0000ff"/><rect x="54" y="171" width="9" height="1" fill="#0000ff"/><rect x="63" y="170" width="10" height="1" fill="#0000ff"/><rect x="73" y="169" width="9" height="1" fill="#0000ff"/><rect x="82" y="168" width="10" height="1" fill="#0000ff"/><rect x="92" y="167" width="9" height="1" fill="#0000ff"/><rect x="101" y="166" width="10" height="1" fill="#0000ff"/><rect x="111" y="165" width="9" height="1" fill="#0000ff"/><rect x="120" y="164" width="9" height="1" fill="#0000ff"/><rect x="129" y="163" width="10" height="1" fill="#0000ff"/><rect x="139" y="162" width="9" height="1" fill="#0000ff"/><rect x="148" y="161" width="10" height="1" fill="#0000ff"/><rect x="158" y="160" width="9" height="1" fill="#0000ff"/><rect x="167" y="159" width="10" height="1" fill="#0000ff"/><rect x="177" y="158" width="9" height="1" fill="#0000ff"/><rect x="186" y="157" width="9" height="1" fill="#0000ff"/><rect x="195" y="156" width="10" height="1" fill="#0000ff"/><rect x="205" y="155" width="9" height="1" fill="#0000ff"/><rect x="214" y="154" width="10" height="1" fill="#0000ff"/><rect x="224" y="153" width="9" height="1" fill="#0000ff"/><rect x="233" y="152" width="10" height="1" fill="#0000ff"/><rect x="243" y="151" width="9" height="1" fill="#0000ff"/><rect x="252" y="150" width="9" height="1" fill="#0000ff"/><rect x="261" y="149" width="10" height="1" fill="#0000ff"/><rect x="271" y="148" width="9" height="1" fill="#0000ff"/><rect x="280" y="147" width="10" height="1" fill="#0000ff"/><rect x="290" y="146" width="9" height="1" fill="#0000ff"/><rect x="299" y="145" width="10" height="1" fill="#0000ff"/><rect x="309" y="144" width="9" height="1" fill="#0000ff"/><rect x="318" y="143" width="9" height="1" fill="#0000ff"/><rect x="327" y="142" width="10" height="1" fill="#0000ff"/><rect x="337" y="141" width="9" height="1" fill="#0000ff"/><rect x="346" y="140" width="10" height="1" fill="#0000ff"/><rect x="356" y="139" width="9" height="1" fill="#0000ff"/><rect x="365" y="138" width="10" height="1" fill="#0000ff"/><rect x="375" y="137" width="9" height="1" fill="#0000ff"/><rect x="384" y="136" width="9" height="1" fill="#0000ff"/><rect x="393" y="135" width="10" height="1" fill="#0000ff"/><rect x="403" y="134" width="9" height="1" fill="#0000ff"/><rect x="412" y="133" width="10" height="1" fill="#0000ff"/><rect x="422" y="132" width="9" height="1" fill="#0000ff"/><rect x="431" y="131" width="10" height="1" fill="#0000ff"/><rect x="441" y="130" width="9" height="1" fill="#0000ff"/><rect x="450" y="129" width="9" height="1" fill="#0000ff"/><rect x="459" y="128" width="10" height="1" fill="#0000ff"/><rect x="469" y="127" width="9" height="1" fill="#0000ff"/><rect x="478" y="126" width="10" height="1" fill="#0000ff"/><rect x="488" y="125" width="9" height="1" fill="#0000ff"/><rect x="497" y="124" width="10" height="1" fill="#0000ff"/><rect x="507" y="123" width="9" height="1" fill="#0000ff"/><rect x="516" y="122" width="9" height="1" fill="#0000ff"/><rect x="525" y="121" width="10" height="1" fill="#0000ff"/><rect x="535" y="120" width="9" height="1" fill="#0000ff"/><rect x="544" y="119" width="10" height="1" fill="#0000ff"/><rect x="554" y="118" width="9" height="1" fill="#0000ff"/><rect x="563" y="117" width="10" height="1" fill="#0000ff"/><rect x="573" y="116" width="9" height="1" fill="#0000ff"/><rect x="582" y="115" width="9" height="1" fill="#0000ff"/><rect x="591" y="114" width="10" height="1" fill="#0000ff"/><rect x="601" y="113" width="9" height="1" fill="#0000ff"/><rect x="610" y="112" width="10" height="1" fill="#0000ff"/><rect x="620" y="111" width="9" height="1" fill="#0000ff"/><rect x="629" y="110" width="10" height="1" fill="#0000ff"/><rect x="639" y="109" width="9" height="1" fill="#0000ff"/><rect x="648" y="108" width="9" height="1" fill="#0000ff"/><rect x="657" y="107" width="10" height="1" fill="#0000ff"/><rect x="667" y="106" width="9" height="1" fill="#0000ff"/><rect x="676" y="105" width="10" height="1" fill="#0000ff"/><rect x="686" y="104" width="9" height="1" fill="#0000ff"/><rect x="695" y="103" width="10" height="1" fill="#0000ff"/><rect x="705" y="102" width="9" height="1" fill="#0000ff"/><rect x="714" y="101" width="9" height="1" fill="#0000ff"/><rect x="723" y="100" width="10" height="1" fill="#0000ff"/><rect x="733" y="99" width="9" height="1" fill="#0000ff"/><rect x="742" y="98" width="10" height="1" fill="#0000ff"/><rect x="752" y="97" width="9" height="1" fill="#0000ff"/><rect x="761" y="96" width="10" height="1" fill="#0000ff"/><rect x="771" y="95" width="9" height="1" fill="#0000ff"/><rect x="780" y="94" width="9" height="1" fill="#0000ff"/><rect x="789" y="93" width="10" height="1" fill="#0000ff"/><rect x="799" y="92" width="9" height="1" fill="#0000ff"/><rect x="808" y="91" width="10" height="1" fill="#0000ff"/><rect x="818" y="90" width="9" height="1" fill="#0000ff"/><rect x="827" y="89" width="10" height="1" fill="#0000ff"/><rect x="837" y="88" width="5" height="1" fill="#0000ff"/><rect x="0" y="537" width="5" height="1" fill="#0000ff"/><rect x="5" y="536" width="8" height="1" fill="#0000ff"/><rect x="13" y="535" width="7" height="1" fill="#0000ff"/><rect x="20" y="534" width="7" height="1" fill="#0000ff"/><rect x="27" y="533" width="7" height="1" fill="#0000ff"/><rect x="34" y="532" width="7" height="1" fill="#0000ff"/><rect x="41" y="531" width="7" height="1" fill="#0000ff"/><rect x="48" y="530" width="7" height="1" fill="#0000ff"/><rect x="55" y="529" width="7" height="1" fill="#0000ff"/><rect x="62" y="528" width="8" height="1" fill="#0000ff"/><rect x="70" y="527" width="7" height="1" fill="#0000ff"/><rect x="77" y="526" width="7" height="1" fill="#0000ff"/><rect x="84" y="525" width="7" height="1" fill="#0000ff"/><rect x="91" y="524" width="7" height="1" fill="#0000ff"/><rect x="98" y="523" width="7" height="1" fill="#0000ff"/><rect x="105" y="522" width="7" height="1" fill="#0000ff"/><rect x="112" y="521" width="7" height="1" fill="#0000ff"/><rect x="119" y="520" width="8" height="1" fill="#0000ff"/><rect x="127" y="519" width="7" height="1" fill="#0000ff"/><rect x="134" y="518" width="7" height="1" fill="#0000ff"/><rect x="141" y="517" width="7" height="1" fill="#0000ff"/><rect x="148" y="516" width="7" height="1" fill="#0000ff"/><rect x="155" y="515" width="7" height="1" fill="#0000ff"/><rect x="162" y="514" width="7" height="1" fill="#0000ff"/><rect x="169" y="513" width="7" height="1" fill="#0000ff"/><rect x="176" y="512" width="8" height="1" fill="#0000ff"/><rect x="184" y="511" width="7" height="1" fill="#0000ff"/><rect x="191" y="510" width="7" height="1" fill="#0000ff"/><rect x="198" y="509" width="7" height="1" fill="#0000ff"/><rect x="205" y="508" width="7" height="1" fill="#0000ff"/><rect x="212" y="507" width="7" height="1" fill="#0000ff"/><rect x="219" y="506" width="7" height="1" fill="#0000ff"/><rect x="226" y="505" width="7" height="1" fill="#0000ff"/><rect x="233" y="504" width="8" height="1" fill="#0000ff"/><rect x="241" y="503" width="7" height="1" fill="#0000ff"/><rect x="248" y="502" width="7" height="1" fill="#0000ff"/><rect x="255" y="501" width="7" height="1" fill="#0000ff"/><rect x="262" y="500" width="7" height="1" fill="#0000ff"/><rect x="269" y="499" width="7" height="1" fill="#0000ff"/><rect x="276" y="498" width="7" height="1" fill="#0000ff"/><rect x="283" y="497" width="7" height="1" fill="#0000ff"/><rect x="290" y="496" width="8" height="1" fill="#0000ff"/><rect x="298" y="495" width="7" height="1" fill="#0000ff"/><rect x="305" y="494" width="7" height="1" fill="#0000ff"/><rect x="312" y="493" width="7" height="1" fill="#0000ff"/><rect x="319" y="492" width="7" height="1" fill="#0000ff"/><rect x="326" y="491" width="7" height="1" fill="#0000ff"/><rect x="333" y="490" width="7" height="1" fill="#0000ff"/><rect x="340" y="489" width="7" height="1" fill="#0000ff"/><rect x="347" y="488" width="8" height="1" fill="#0000ff"/><rect x="355" y="487" width="7" height="1" fill="#0000ff"/><rect x="362" y="486" width="7" height="1" fill="#0000ff"/><rect x="369" y="485" width="7" height="1" fill="#0000ff"/><rect x="376" y="484" width="7" height="1" fill="#0000ff"/><rect x="383" y="483" width="7" height="1" fill="#0000ff"/><rect x="390" y="482" width="7" height="1" fill="#0000ff"/><rect x="397" y="481" width="7" height="1" fill="#0000ff"/><rect x="404" y="480" width="8" height="1" fill="#0000ff"/><rect x="412" y="479" width="7" height="1" fill="#0000ff"/><rect x="419" y="478" width="7" height="1" fill="#0000ff"/><rect x="426" y="477" width="7" height="1" fill="#0000ff"/><rect x="433" y="476" width="7" height="1" fill="#0000ff"/><rect x="440" y="475" width="7" height="1" fill="#0000ff"/><rect x="447" y="474" width="7" height="1" fill="#0000ff"/><rect x="454" y="473" width="7" height="1" fill="#0000ff"/><rect x="461" y="472" width="8" height="1" fill="#0000ff"/><rect x="469" y="471" width="7" height="1" fill="#0000ff"/><rect x="476" y="470" width="7" height="1" fill="#0000ff"/><rect x="483" y="469" width="7" height="1" fill="#0000ff"/><rect x="490" y="468" width="7" height="1" fill="#0000ff"/><rect x="497" y="467" width="7" height="1" fill="#0000ff"/><rect x="504" y="466" width="7" height="1" fill="#0000ff"/><rect x="511" y="465" width="7" height="1" fill="#0000ff"/><rect x="518" y="464" width="8" height="1" fill="#0000ff"/><rect x="526" y="463" width="7" height="1" fill="#0000ff"/><rect x="533" y="462" width="7" height="1" fill="#0000ff"/><rect x="540" y="461" width="7" height="1" fill="#0000ff"/><rect x="547" y="460" width="7" height="1" fill="#0000ff"/><rect x="554" y="459" width="7" height="1" fill="#0000ff"/><rect x="561" y="458" width="7" height="1" fill="#0000ff"/><rect x="568" y="457" width="7" height="1" fill="#0000ff"/><rect x="575" y="456" width="8" height="1" fill="#0000ff"/><rect x="583" y="455" width="7" height="1" fill="#0000ff"/><rect x="590" y="454" width="7" height="1" fill="#0000ff"/><rect x="597" y="453" width="7" height="1" fill="#0000ff"/><rect x="604" y="452" width="7" height="1" fill="#0000ff"/><rect x="611" y="451" width="7" height="1" fill="#0000ff"/><rect x="618" y="450" width="7" height="1" fill="#0000ff"/><rect x="625" y="449" width="7" height="1" fill="#0000ff"/><rect x="632" y="448" width="8" height="1" fill="#0000ff"/><rect x="640" y="447" width="7" height="1" fill="#0000ff"/><rect x="647" y="446" width="7" height="1" fill="#0000ff"/><rect x="654" y="445" width="7" height="1" fill="#0000ff"/><rect x="661" y="444" width="7" height="1" fill="#0000ff"/><rect x="668" y="443" width="7" height="1" fill="#0000ff"/><rect x="675" y="442" width="7" height="1" fill="#0000ff"/><rect x="682" y="441" width="7" height="1" fill="#0000ff"/><rect x="689" y="440" width="8" height="1" fill="#0000ff"/><rect x="697" y="439" width="7" height="1" fill="#0000ff"/><rect x="704" y="438" width="7" height="1" fill="#0000ff"/><rect x="711" y="437" width="7" height="1" fill="#0000ff"/><rect x="718" y="436" width="7" height="1" fill="#0000ff"/><rect x="725" y="435" width="7" height="1" fill="#0000ff"/><rect x="732" y="434" width="7" height="1" fill="#0000ff"/><rect x="739" y="433" width="7" height="1" fill="#0000ff"/><rect x="746" y="432" width="8" height="1" fill="#0000ff"/><rect x="754" y="431" width="7" height="1" fill="#0000ff"/><rect x="761" y="430" width="7" height="1" fill="#0000ff"/><rect x="768" y="429" width="7" height="1" fill="#0000ff"/><rect x="775" y="428" width="7" height="1" fill="#0000ff"/><rect x="782" y="427" width="7" height="1" fill="#0000ff"/><rect x="789" y="426" width="7" height="1" fill="#0000ff"/><rect x="796" y="425" width="7" height="1" fill="#0000ff"/><rect x="803" y="424" width="8" height="1" fill="#0000ff"/><rect x="811" y="423" width="7" height="1" fill="#0000ff"/><rect x="818" y="422" width="7" height="1" fill="#0000ff"/><rect x="825" y="421" width="7" height="1" fill="#0000ff"/><rect x="832" y="420" width="7" height="1" fill="#0000ff"/><rect x="839" y="419" width="3" height="1" fill="#0000ff"/><rect x="455" y="127" width="473" height="1" fill="#ff00ff"/><rect x="455" y="547" width="473" height="1" fill="#ff00ff"/><rect x="455" y="287" width="3" height="1" fill="#ff00ff"/><rect x="461" y="287" width="3" height="1" fill="#ff00ff"/><rect x="467" y="287" width="3" height="1" fill="#ff00ff"/><rect x="473" y="287" width="3" height="1" fill="#ff00ff"/><rect x="479" y="287" width="3" height="1" fill="#ff00ff"/><rect x="485" y="287" width="3" height="1" fill="#ff00ff"/><rect x="491" y="287" width="3" height="1" fill="#ff00ff"/><rect x="497" y="287" width="3" height="1" fill="#ff00ff"/><rect x="503" y="287" width="3" height="1" fill="#ff00ff"/><rect x="509" y="287" width="3" height="1" fill="#ff00ff"/><rect x="515" y="287" width="3" height="1" fill="#ff00ff"/><rect x="521" y="287" width="3" height="1" fill="#ff00ff"/><rect x="527" y="287" width="3" height="1" fill="#ff00ff"/><rect x="533" y="287" width="3" height="1" fill="#ff00ff"/><rect x="539" y="287" width="3" height="1" fill="#ff00ff"/><rect x="545" y="287" width="3" height="1" fill="#ff00ff"/><rect x="551" y="287" width="3" height="1" fill="#ff00ff"/><rect x="557" y="287" width="3" height="1" fill="#ff00ff"/><rect x="563" y="287" width="3" height="1" fill="#ff00ff"/><rect x="569" y="287" width="3" height="1" fill="#ff00ff"/><rect x="575" y="287" width="3" height="1" fill="#ff00ff"/><rect x="581" y="287" width="3" height="1" fill="#ff00ff"/><rect x="587" y="287" width="3" height="1" fill="#ff00ff"/><rect x="593" y="287" width="3" height="1" fill="#ff00ff"/><rect x="599" y="287" width="3" height="1" fill="#ff00ff"/><rect x="605" y="287" width="3" height="1" fill="#ff00ff"/><rect x="611" y="287" width="3" height="1" fill="#ff00ff"/><rect x="617" y="287" width="3" height="1" fill="#ff00ff"/><rect x="623" y="287" width="3" height="1" fill="#ff00ff"/><rect x="629" y="287" width="3" height="1" fill="#ff00ff"/><rect x="635" y="287" width="3" height="1" fill="#ff00ff"/><rect x="641" y="287" width="3" height="1" fill="#ff00ff"/><rect x="647" y="287" width="3" height="1" fill="#ff00ff"/><rect x="653" y="287" width="3" height="1" fill="#ff00ff"/><rect x="659" y="287" width="3" height="1" fill="#ff00ff"/><rect x="665" y="287" width="3" height="1" fill="#ff00ff"/><rect x="671" y="287" width="3" height="1" fill="#ff00ff"/><rect x="677" y="287" width="3" height="1" fill="#ff00ff"/><rect x="683" y="287" width="3" height="1" fill="#ff00ff"/><rect x="689" y="287" width="3" height="1" fill="#ff00ff"/><rect x="695" y="287" width="3" height="1" fill="#ff00ff"/><rect x="701" y="287" width="3" height="1" fill="#ff00ff"/><rect x="707" y="287" width="3" height="1" fill="#ff00ff"/><rect x="713" y="287" width="3" height="1" fill="#ff00ff"/><rect x="719" y="287" width="3" height="1" fill="#ff00ff"/><rect x="725" y="287" width="3" height="1" fill="#ff00ff"/><rect x="731" y="287" width="3" height="1" fill="#ff00ff"/><rect x="737" y="287" width="3" height="1" fill="#ff00ff"/><rect x="743" y="287" width="3" height="1" fill="#ff00ff"/><rect x="749" y="287" width="3" height="1" fill="#ff00ff"/><rect x="755" y="287" width="3" height="1" fill="#ff00ff"/><rect x="761" y="287" width="3" height="1" fill="#ff00ff"/><rect x="767" y="287" width="3" height="1" fill="#ff00ff"/><rect x="773" y="287" width="3" height="1" fill="#ff00ff"/><rect x="779" y="287" width="3" height="1" fill="#ff00ff"/><rect x="785" y="287" width="3" height="1" fill="#ff00ff"/><rect x="791" y="287" width="3" height="1" fill="#ff00ff"/><rect x="797" y="287" width="3" height="1" fill="#ff00ff"/><rect x="803" y="287" width="3" height="1" fill="#ff00ff"/><rect x="809" y="287" width="3" height="1" fill="#ff00ff"/><rect x="815" y="287" width="3" height="1" fill="#ff00ff"/><rect x="821" y="287" width="3" height="1" fill="#ff00ff"/><rect x="827" y="287" width="3" height="1" fill="#ff00ff"/><rect x="833" y="287" width="3" height="1" fill="#ff00ff"/><rect x="839" y="287" width="3" height="1" fill="#ff00ff"/><rect x="845" y="287" width="3" height="1" fill="#ff00ff"/><rect x="851" y="287" width="3" height="1" fill="#ff00ff"/><rect x="857" y="287" width="3" height="1" fill="#ff00ff"/><rect x="863" y="287" width="3" height="1" fill="#ff00ff"/><rect x="869" y="287" width="3" height="1" fill="#ff00ff"/><rect x="875" y="287" width="3" height="1" fill="#ff00ff"/><rect x="881" y="287" width="3" height="1" fill="#ff00ff"/><rect x="887" y="287" width="3" height="1" fill="#ff00ff"/><rect x="893" y="287" width="3" height="1" fill="#ff00ff"/><rect x="899" y="287" width="3" height="1" fill="#ff00ff"/><rect x="905" y="287" width="3" height="1" fill="#ff00ff"/><rect x="911" y="287" width="3" height="1" fill="#ff00ff"/><rect x="917" y="287" width="3" height="1" fill="#ff00ff"/><rect x="923" y="287" width="3" height="1" fill="#ff00ff"/><rect x="455" y="337" width="3" height="1" fill="#ff00ff"/><rect x="461" y="337" width="3" height="1" fill="#ff00ff"/><rect x="467" y="337" width="3" height="1" fill="#ff00ff"/><rect x="473" y="337" width="3" height="1" fill="#ff00ff"/><rect x="479" y="337" width="3" height="1" fill="#ff00ff"/><rect x="485" y="337" width="3" height="1" fill="#ff00ff"/><rect x="491" y="337" width="3" height="1" fill="#ff00ff"/><rect x="497" y="337" width="3" height="1" fill="#ff00ff"/><rect x="503" y="337" width="3" height="1" fill="#ff00ff"/><rect x="509" y="337" width="3" height="1" fill="#ff00ff"/><rect x="515" y="337" width="3" height="1" fill="#ff00ff"/><rect x="521" y="337" width="3" height="1" fill="#ff00ff"/><rect x="527" y="337" width="3" height="1" fill="#ff00ff"/><rect x="533" y="337" width="3" height="1" fill="#ff00ff"/><rect x="539" y="337" width="3" height="1" fill="#ff00ff"/><rect x="545" y="337" width="3" height="1" fill="#ff00ff"/><rect x="551" y="337" width="3" height="1" fill="#ff00ff"/><rect x="557" y="337" width="3" height="1" fill="#ff00ff"/><rect x="563" y="337" width="3" height="1" fill="#ff00ff"/><rect x="569" y="337" width="3" height="1" fill="#ff00ff"/><rect x="575" y="337" width="3" height="1" fill="#ff00ff"/><rect x="581" y="337" width="3" height="1" fill="#ff00ff"/><rect x="587" y="337" width="3" height="1" fill="#ff00ff"/><rect x="593" y="337" width="3" height="1" fill="#ff00ff"/><rect x="599" y="337" width="3" height="1" fill="#ff00ff"/><rect x="605" y="337" width="3" height="1" fill="#ff00ff"/><rect x="611" y="337" width="3" height="1" fill="#ff00ff"/><rect x="617" y="337" width="3" height="1" fill="#ff00ff"/><rect x="623" y="337" width="3" height="1" fill="#ff00ff"/><rect x="629" y="337" width="3" height="1" fill="#ff00ff"/><rect x="635" y="337" width="3" height="1" fill="#ff00ff"/><rect x="641" y="337" width="3" height="1" fill="#ff00ff"/><rect x="647" y="337" width="3" height="1" fill="#ff00ff"/><rect x="653" y="337" width="3" height="1" fill="#ff00ff"/><rect x="659" y="337" width="3" height="1" fill="#ff00ff"/><rect x="665" y="337" width="3" height="1" fill="#ff00ff"/><rect x="671" y="337" width="3" height="1" fill="#ff00ff"/><rect x="677" y="337" width="3" height="1" fill="#ff00ff"/><rect x="683" y="337" width="3" height="1" fill="#ff00ff"/><rect x="689" y="337" width="3" height="1" fill="#ff00ff"/><rect x="695" y="337" width="3" height="1" fill="#ff00ff"/><rect x="701" y="337" width="3" height="1" fill="#ff00ff"/><rect x="707" y="337" width="3" height="1" fill="#ff00ff"/><rect x="713" y="337" width="3" height="1" fill="#ff00ff"/><rect x="719" y="337" width="3" height="1" fill="#ff00ff"/><rect x="725" y="337" width="3" height="1" fill="#ff00ff"/><rect x="731" y="337" width="3" height="1" fill="#ff00ff"/><rect x="737" y="337" width="3" height="1" fill="#ff00ff"/><rect x="743" y="337" width="3" height="1" fill="#ff00ff"/><rect x="749" y="337" width="3" height="1" fill="#ff00ff"/><rect x="755" y="337" width="3" height="1" fill="#ff00ff"/><rect x="761" y="337" width="3" height="1" fill="#ff00ff"/><rect x="767" y="337" width="3" height="1" fill="#ff00ff"/><rect x="773" y="337" width="3" height="1" fill="#ff00ff"/><rect x="779" y="337" width="3" height="1" fill="#ff00ff"/><rect x="785" y="337" width="3" height="1" fill="#ff00ff"/><rect x="791" y="337" width="3" height="1" fill="#ff00ff"/><rect x="797" y="337" width="3" height="1" fill="#ff00ff"/><rect x="803" y="337" width="3" height="1" fill="#ff00ff"/><rect x="809" y="337" width="3" height="1" fill="#ff00ff"/><rect x="815" y="337" width="3" height="1" fill="#ff00ff"/><rect x="821" y="337" width="3" height="1" fill="#ff00ff"/><rect x="827" y="337" width="3" height="1" fill="#ff00ff"/><rect x="833" y="337" width="3" height="1" fill="#ff00ff"/><rect x="839" y="337" width="3" height="1" fill="#ff00ff"/><rect x="845" y="337" width="3" height="1" fill="#ff00ff"/><rect x="851" y="337" width="3" height="1" fill="#ff00ff"/><rect x="857" y="337" width="3" height="1" fill="#ff00ff"/><rect x="863" y="337" width="3" height="1" fill="#ff00ff"/><rect x="869" y="337" width="3" height="1" fill="#ff00ff"/><rect x="875" y="337" width="3" height="1" fill="#ff00ff"/><rect x="881" y="337" width="3" height="1" fill="#ff00ff"/><rect x="887" y="337" width="3" height="1" fill="#ff00ff"/><rect x="893" y="337" width="3" height="1" fill="#ff00ff"/><rect x="899" y="337" width="3" height="1" fill="#ff00ff"/><rect x="905" y="337" width="3" height="1" fill="#ff00ff"/><rect x="911" y="337" width="3" height="1" fill="#ff00ff"/><rect x="917" y="337" width="3" height="1" fill="#ff00ff"/><rect x="923" y="337" width="3" height="1" fill="#ff00ff"/><rect x="455" y="386" width="3" height="1" fill="#ff00ff"/><rect x="461" y="386" width="3" height="1" fill="#ff00ff"/><rect x="467" y="386" width="3" height="1" fill="#ff00ff"/><rect x="473" y="386" width="3" height="1" fill="#ff00ff"/><rect x="479" y="386" width="3" height="1" fill="#ff00ff"/><rect x="485" y="386" width="3" height="1" fill="#ff00ff"/><rect x="491" y="386" width="3" height="1" fill="#ff00ff"/><rect x="497" y="386" width="3" height="1" fill="#ff00ff"/><rect x="503" y="386" width="3" height="1" fill="#ff00ff"/><rect x="509" y="386" width="3" height="1" fill="#ff00ff"/><rect x="515" y="386" width="3" height="1" fill="#ff00ff"/><rect x="521" y="386" width="3" height="1" fill="#ff00ff"/><rect x="527" y="386" width="3" height="1" fill="#ff00ff"/><rect x="533" y="386" width="3" height="1" fill="#ff00ff"/><rect x="539" y="386" width="3" height="1" fill="#ff00ff"/><rect x="545" y="386" width="3" height="1" fill="#ff00ff"/><rect x="551" y="386" width="3" height="1" fill="#ff00ff"/><rect x="557" y="386" width="3" height="1" fill="#ff00ff"/><rect x="563" y="386" width="3" height="1" fill="#ff00ff"/><rect x="569" y="386" width="3" height="1" fill="#ff00ff"/><rect x="575" y="386" width="3" height="1" fill="#ff00ff"/><rect x="581" y="386" width="3" height="1" fill="#ff00ff"/><rect x="587" y="386" width="3" height="1" fill="#ff00ff"/><rect x="593" y="386" width="3" height="1" fill="#ff00ff"/><rect x="599" y="386" width="3" height="1" fill="#ff00ff"/><rect x="605" y="386" width="3" height="1" fill="#ff00ff"/><rect x="611" y="386" width="3" height="1" fill="#ff00ff"/><rect x="617" y="386" width="3" height="1" fill="#ff00ff"/><rect x="623" y="386" width="3" height="1" fill="#ff00ff"/><rect x="629" y="386" width="3" height="1" fill="#ff00ff"/><rect x="635" y="386" width="3" height="1" fill="#ff00ff"/><rect x="641" y="386" width="3" height="1" fill="#ff00ff"/><rect x="647" y="386" width="3" height="1" fill="#ff00ff"/><rect x="653" y="386" width="3" height="1" fill="#ff00ff"/><rect x="659" y="386" width="3" height="1" fill="#ff00ff"/><rect x="665" y="386" width="3" height="1" fill="#ff00ff"/><rect x="671" y="386" width="3" height="1" fill="#ff00ff"/><rect x="677" y="386" width="3" height="1" fill="#ff00ff"/><rect x="683" y="386" width="3" height="1" fill="#ff00ff"/><rect x="689" y="386" width="3" height="1" fill="#ff00ff"/><rect x="695" y="386" width="3" height="1" fill="#ff00ff"/><rect x="701" y="386" width="3" height="1" fill="#ff00ff"/><rect x="707" y="386" width="3" height="1" fill="#ff00ff"/><rect x="713" y="386" width="3" height="1" fill="#ff00ff"/><rect x="719" y="386" width="3" height="1" fill="#ff00ff"/><rect x="725" y="386" width="3" height="1" fill="#ff00ff"/><rect x="731" y="386" width="3" height="1" fill="#ff00ff"/><rect x="737" y="386" width="3" height="1" fill="#ff00ff"/><rect x="743" y="386" width="3" height="1" fill="#ff00ff"/><rect x="749" y="386" width="3" height="1" fill="#ff00ff"/><rect x="755" y="386" width="3" height="1" fill="#ff00ff"/><rect x="761" y="386" width="3" height="1" fill="#ff00ff"/><rect x="767" y="386" width="3" height="1" fill="#ff00ff"/><rect x="773" y="386" width="3" height="1" fill="#ff00ff"/><rect x="779" y="386" width="3" height="1" fill="#ff00ff"/><rect x="785" y="386" width="3" height="1" fill="#ff00ff"/><rect x="791" y="386" width="3" height="1" fill="#ff00ff"/><rect x="797" y="386" width="3" height="1" fill="#ff00ff"/><rect x="803" y="386" width="3" height="1" fill="#ff00ff"/><rect x="809" y="386" width="3" height="1" fill="#ff00ff"/><rect x="815" y="386" width="3" height="1" fill="#ff00ff"/><rect x="821" y="386" width="3" height="1" fill="#ff00ff"/><rect x="827" y="386" width="3" height="1" fill="#ff00ff"/><rect x="833" y="386" width="3" height="1" fill="#ff00ff"/><rect x="839" y="386" width="3" height="1" fill="#ff00ff"/><rect x="845" y="386" width="3" height="1" fill="#ff00ff"/><rect x="851" y="386" width="3" height="1" fill="#ff00ff"/><rect x="857" y="386" width="3" height="1" fill="#ff00ff"/><rect x="863" y="386" width="3" height="1" fill="#ff00ff"/><rect x="869" y="386" width="3" height="1" fill="#ff00ff"/><rect x="875" y="386" width="3" height="1" fill="#ff00ff"/><rect x="881" y="386" width="3" height="1" fill="#ff00ff"/><rect x="887" y="386" width="3" height="1" fill="#ff00ff"/><rect x="893" y="386" width="3" height="1" fill="#ff00ff"/><rect x="899" y="386" width="3" height="1" fill="#ff00ff"/><rect x="905" y="386" width="3" height="1" fill="#ff00ff"/><rect x="911" y="386" width="3" height="1" fill="#ff00ff"/><rect x="917" y="386" width="3" height="1" fill="#ff00ff"/><rect x="923" y="386" width="3" height="1" fill="#ff00ff"/><rect x="455" y="448" width="3" height="1" fill="#ff00ff"/><rect x="461" y="448" width="3" height="1" fill="#ff00ff"/><rect x="467" y="448" width="3" height="1" fill="#ff00ff"/><rect x="473" y="448" width="3" height="1" fill="#ff00ff"/><rect x="479" y="448" width="3" height="1" fill="#ff00ff"/><rect x="485" y="448" width="3" height="1" fill="#ff00ff"/><rect x="491" y="448" width="3" height="1" fill="#ff00ff"/><rect x="497" y="448" width="3" height="1" fill="#ff00ff"/><rect x="503" y="448" width="3" height="1" fill="#ff00ff"/><rect x="509" y="448" width="3" height="1" fill="#ff00ff"/><rect x="515" y="448" width="3" height="1" fill="#ff00ff"/><rect x="521" y="448" width="3" height="1" fill="#ff00ff"/><rect x="527" y="448" width="3" height="1" fill="#ff00ff"/><rect x="533" y="448" width="3" height="1" fill="#ff00ff"/><rect x="539" y="448" width="3" height="1" fill="#ff00ff"/><rect x="545" y="448" width="3" height="1" fill="#ff00ff"/><rect x="551" y="448" width="3" height="1" fill="#ff00ff"/><rect x="557" y="448" width="3" height="1" fill="#ff00ff"/><rect x="563" y="448" width="3" height="1" fill="#ff00ff"/><rect x="569" y="448" width="3" height="1" fill="#ff00ff"/><rect x="575" y="448" width="3" height="1" fill="#ff00ff"/><rect x="581" y="448" width="3" height="1" fill="#ff00ff"/><rect x="587" y="448" width="3" height="1" fill="#ff00ff"/><rect x="593" y="448" width="3" height="1" fill="#ff00ff"/><rect x="599" y="448" width="3" height="1" fill="#ff00ff"/><rect x="605" y="448" width="3" height="1" fill="#ff00ff"/><rect x="611" y="448" width="3" height="1" fill="#ff00ff"/><rect x="617" y="448" width="3" height="1" fill="#ff00ff"/><rect x="623" y="448" width="3" height="1" fill="#ff00ff"/><rect x="629" y="448" width="3" height="1" fill="#ff00ff"/><rect x="635" y="448" width="3" height="1" fill="#ff00ff"/><rect x="641" y="448" width="3" height="1" fill="#ff00ff"/><rect x="647" y="448" width="3" height="1" fill="#ff00ff"/><rect x="653" y="448" width="3" height="1" fill="#ff00ff"/><rect x="659" y="448" width="3" height="1" fill="#ff00ff"/><rect x="665" y="448" width="3" height="1" fill="#ff00ff"/><rect x="671" y="448" width="3" height="1" fill="#ff00ff"/><rect x="677" y="448" width="3" height="1" fill="#ff00ff"/><rect x="683" y="448" width="3" height="1" fill="#ff00ff"/><rect x="689" y="448" width="3" height="1" fill="#ff00ff"/><rect x="695" y="448" width="3" height="1" fill="#ff00ff"/><rect x="701" y="448" width="3" height="1" fill="#ff00ff"/><rect x="707" y="448" width="3" height="1" fill="#ff00ff"/><rect x="713" y="448" width="3" height="1" fill="#ff00ff"/><rect x="719" y="448" width="3" height="1" fill="#ff00ff"/><rect x="725" y="448" width="3" height="1" fill="#ff00ff"/><rect x="731" y="448" width="3" height="1" fill="#ff00ff"/><rect x="737" y="448" width="3" height="1" fill="#ff00ff"/><rect x="743" y="448" width="3" height="1" fill="#ff00ff"/><rect x="749" y="448" width="3" height="1" fill="#ff00ff"/><rect x="755" y="448" width="3" height="1" fill="#ff00ff"/><rect x="761" y="448" width="3" height="1" fill="#ff00ff"/><rect x="767" y="448" width="3" height="1" fill="#ff00ff"/><rect x="773" y="448" width="3" height="1" fill="#ff00ff"/><rect x="779" y="448" width="3" height="1" fill="#ff00ff"/><rect x="785" y="448" width="3" height="1" fill="#ff00ff"/><rect x="791" y="448" width="3" height="1" fill="#ff00ff"/><rect x="797" y="448" width="3" height="1" fill="#ff00ff"/><rect x="803" y="448" width="3" height="1" fill="#ff00ff"/><rect x="809" y="448" width="3" height="1" fill="#ff00ff"/><rect x="815" y="448" width="3" height="1" fill="#ff00ff"/><rect x="821" y="448" width="3" height="1" fill="#ff00ff"/><rect x="827" y="448" width="3" height="1" fill="#ff00ff"/><rect x="833" y="448" width="3" height="1" fill="#ff00ff"/><rect x="839" y="448" width="3" height="1" fill="#ff00ff"/><rect x="845" y="448" width="3" height="1" fill="#ff00ff"/><rect x="851" y="448" width="3" height="1" fill="#ff00ff"/><rect x="857" y="448" width="3" height="1" fill="#ff00ff"/><rect x="863" y="448" width="3" height="1" fill="#ff00ff"/><rect x="869" y="448" width="3" height="1" fill="#ff00ff"/><rect x="875" y="448" width="3" height="1" fill="#ff00ff"/><rect x="881" y="448" width="3" height="1" fill="#ff00ff"/><rect x="887" y="448" width="3" height="1" fill="#ff00ff"/><rect x="893" y="448" width="3" height="1" fill="#ff00ff"/><rect x="899" y="448" width="3" height="1" fill="#ff00ff"/><rect x="905" y="448" width="3" height="1" fill="#ff00ff"/><rect x="911" y="448" width="3" height="1" fill="#ff00ff"/><rect x="917" y="448" width="3" height="1" fill="#ff00ff"/><rect x="923" y="448" width="3" height="1" fill="#ff00ff"/><text x="395.3" y="132" font-size="12.5" fill="#ff00ff" font-family='"Liberation Sans", sans-serif' textLength="47.8" lengthAdjust="spacingAndGlyphs">100.0%</text><text x="402.5" y="292" font-size="12.5" fill="#ff00ff" font-family='"Liberation Sans", sans-serif' textLength="40.6" lengthAdjust="spacingAndGlyphs">61.8%</text><text x="402.5" y="342" font-size="12.5" fill="#ff00ff" font-family='"Liberation Sans", sans-serif' textLength="40.6" lengthAdjust="spacingAndGlyphs">50.0%</text><text x="402.7" y="391" font-size="12.5" fill="#ff00ff" font-family='"Liberation Sans", sans-serif' textLength="40.4" lengthAdjust="spacingAndGlyphs">38.2%</text><text x="402.7" y="452" font-size="12.5" fill="#ff00ff" font-family='"Liberation Sans", sans-serif' textLength="40.4" lengthAdjust="spacingAndGlyphs">23.6%</text><text x="410.5" y="552" font-size="12.5" fill="#ff00ff" font-family='"Liberation Sans", sans-serif' textLength="32.6" lengthAdjust="spacingAndGlyphs">0.0%</text><rect x="0" y="188" width="3" height="1" fill="#0000ff"/><rect x="6" y="188" width="3" height="1" fill="#0000ff"/><rect x="12" y="188" width="3" height="1" fill="#0000ff"/><rect x="18" y="188" width="3" height="1" fill="#0000ff"/><rect x="24" y="188" width="3" height="1" fill="#0000ff"/><rect x="30" y="188" width="3" height="1" fill="#0000ff"/><rect x="36" y="188" width="3" height="1" fill="#0000ff"/><rect x="42" y="188" width="3" height="1" fill="#0000ff"/><rect x="48" y="188" width="3" height="1" fill="#0000ff"/><rect x="54" y="188" width="3" height="1" fill="#0000ff"/><rect x="60" y="188" width="3" height="1" fill="#0000ff"/><rect x="66" y="188" width="3" height="1" fill="#0000ff"/><rect x="72" y="188" width="3" height="1" fill="#0000ff"/><rect x="78" y="188" width="3" height="1" fill="#0000ff"/><rect x="84" y="188" width="3" height="1" fill="#0000ff"/><rect x="90" y="188" width="3" height="1" fill="#0000ff"/><rect x="96" y="188" width="3" height="1" fill="#0000ff"/><rect x="102" y="188" width="3" height="1" fill="#0000ff"/><rect x="108" y="188" width="3" height="1" fill="#0000ff"/><rect x="114" y="188" width="3" height="1" fill="#0000ff"/><rect x="120" y="188" width="3" height="1" fill="#0000ff"/><rect x="126" y="188" width="3" height="1" fill="#0000ff"/><rect x="132" y="188" width="3" height="1" fill="#0000ff"/><rect x="138" y="188" width="3" height="1" fill="#0000ff"/><rect x="144" y="188" width="3" height="1" fill="#0000ff"/><rect x="150" y="188" width="3" height="1" fill="#0000ff"/><rect x="156" y="188" width="3" height="1" fill="#0000ff"/><rect x="162" y="188" width="3" height="1" fill="#0000ff"/><rect x="168" y="188" width="3" height="1" fill="#0000ff"/><rect x="174" y="188" width="3" height="1" fill="#0000ff"/><rect x="180" y="188" width="3" height="1" fill="#0000ff"/><rect x="186" y="188" width="3" height="1" fill="#0000ff"/><rect x="192" y="188" width="3" height="1" fill="#0000ff"/><rect x="198" y="188" width="3" height="1" fill="#0000ff"/><rect x="204" y="188" width="3" height="1" fill="#0000ff"/><rect x="210" y="188" width="3" height="1" fill="#0000ff"/><rect x="216" y="188" width="3" height="1" fill="#0000ff"/><rect x="222" y="188" width="3" height="1" fill="#0000ff"/><rect x="228" y="188" width="3" height="1" fill="#0000ff"/><rect x="234" y="188" width="3" height="1" fill="#0000ff"/><rect x="240" y="188" width="3" height="1" fill="#0000ff"/><rect x="246" y="188" width="3" height="1" fill="#0000ff"/><rect x="252" y="188" width="3" height="1" fill="#0000ff"/><rect x="258" y="188" width="3" height="1" fill="#0000ff"/><rect x="264" y="188" width="3" height="1" fill="#0000ff"/><rect x="270" y="188" width="3" height="1" fill="#0000ff"/><rect x="276" y="188" width="3" height="1" fill="#0000ff"/><rect x="282" y="188" width="3" height="1" fill="#0000ff"/><rect x="288" y="188" width="3" height="1" fill="#0000ff"/><rect x="294" y="188" width="3" height="1" fill="#0000ff"/><rect x="300" y="188" width="3" height="1" fill="#0000ff"/><rect x="306" y="188" width="3" height="1" fill="#0000ff"/><rect x="312" y="188" width="3" height="1" fill="#0000ff"/><rect x="318" y="188" width="3" height="1" fill="#0000ff"/><rect x="324" y="188" width="3" height="1" fill="#0000ff"/><rect x="330" y="188" width="3" height="1" fill="#0000ff"/><rect x="336" y="188" width="3" height="1" fill="#0000ff"/><rect x="342" y="188" width="3" height="1" fill="#0000ff"/><rect x="348" y="188" width="3" height="1" fill="#0000ff"/><rect x="354" y="188" width="3" height="1" fill="#0000ff"/><rect x="360" y="188" width="3" height="1" fill="#0000ff"/><rect x="366" y="188" width="3" height="1" fill="#0000ff"/><rect x="372" y="188" width="3" height="1" fill="#0000ff"/><rect x="378" y="188" width="3" height="1" fill="#0000ff"/><rect x="384" y="188" width="3" height="1" fill="#0000ff"/><rect x="390" y="188" width="3" height="1" fill="#0000ff"/><rect x="396" y="188" width="3" height="1" fill="#0000ff"/><rect x="402" y="188" width="3" height="1" fill="#0000ff"/><rect x="408" y="188" width="3" height="1" fill="#0000ff"/><rect x="414" y="188" width="3" height="1" fill="#0000ff"/><rect x="420" y="188" width="3" height="1" fill="#0000ff"/><rect x="426" y="188" width="3" height="1" fill="#0000ff"/><rect x="432" y="188" width="3" height="1" fill="#0000ff"/><rect x="438" y="188" width="3" height="1" fill="#0000ff"/><rect x="444" y="188" width="3" height="1" fill="#0000ff"/><rect x="450" y="188" width="3" height="1" fill="#0000ff"/><rect x="456" y="188" width="3" height="1" fill="#0000ff"/><rect x="462" y="188" width="3" height="1" fill="#0000ff"/><rect x="468" y="188" width="3" height="1" fill="#0000ff"/><rect x="474" y="188" width="3" height="1" fill="#0000ff"/><rect x="480" y="188" width="3" height="1" fill="#0000ff"/><rect x="486" y="188" width="3" height="1" fill="#0000ff"/><rect x="492" y="188" width="3" height="1" fill="#0000ff"/><rect x="498" y="188" width="3" height="1" fill="#0000ff"/><rect x="504" y="188" width="3" height="1" fill="#0000ff"/><rect x="510" y="188" width="3" height="1" fill="#0000ff"/><rect x="516" y="188" width="3" height="1" fill="#0000ff"/><rect x="522" y="188" width="3" height="1" fill="#0000ff"/><rect x="528" y="188" width="3" height="1" fill="#0000ff"/><rect x="534" y="188" width="3" height="1" fill="#0000ff"/><rect x="540" y="188" width="3" height="1" fill="#0000ff"/><rect x="546" y="188" width="3" height="1" fill="#0000ff"/><rect x="552" y="188" width="3" height="1" fill="#0000ff"/><rect x="558" y="188" width="3" height="1" fill="#0000ff"/><rect x="564" y="188" width="3" height="1" fill="#0000ff"/><rect x="570" y="188" width="3" height="1" fill="#0000ff"/><rect x="576" y="188" width="3" height="1" fill="#0000ff"/><rect x="582" y="188" width="3" height="1" fill="#0000ff"/><rect x="588" y="188" width="3" height="1" fill="#0000ff"/><rect x="594" y="188" width="3" height="1" fill="#0000ff"/><rect x="600" y="188" width="3" height="1" fill="#0000ff"/><rect x="606" y="188" width="3" height="1" fill="#0000ff"/><rect x="612" y="188" width="3" height="1" fill="#0000ff"/><rect x="618" y="188" width="3" height="1" fill="#0000ff"/><rect x="624" y="188" width="3" height="1" fill="#0000ff"/><rect x="630" y="188" width="3" height="1" fill="#0000ff"/><rect x="636" y="188" width="3" height="1" fill="#0000ff"/><rect x="642" y="188" width="3" height="1" fill="#0000ff"/><rect x="648" y="188" width="3" height="1" fill="#0000ff"/><rect x="654" y="188" width="3" height="1" fill="#0000ff"/><rect x="660" y="188" width="3" height="1" fill="#0000ff"/><rect x="666" y="188" width="3" height="1" fill="#0000ff"/><rect x="672" y="188" width="3" height="1" fill="#0000ff"/><rect x="678" y="188" width="3" height="1" fill="#0000ff"/><rect x="684" y="188" width="3" height="1" fill="#0000ff"/><rect x="690" y="188" width="3" height="1" fill="#0000ff"/><rect x="696" y="188" width="3" height="1" fill="#0000ff"/><rect x="702" y="188" width="3" height="1" fill="#0000ff"/><rect x="708" y="188" width="3" height="1" fill="#0000ff"/><rect x="714" y="188" width="3" height="1" fill="#0000ff"/><rect x="720" y="188" width="3" height="1" fill="#0000ff"/><rect x="726" y="188" width="3" height="1" fill="#0000ff"/><rect x="732" y="188" width="3" height="1" fill="#0000ff"/><rect x="738" y="188" width="3" height="1" fill="#0000ff"/><rect x="744" y="188" width="3" height="1" fill="#0000ff"/><rect x="750" y="188" width="3" height="1" fill="#0000ff"/><rect x="756" y="188" width="3" height="1" fill="#0000ff"/><rect x="762" y="188" width="3" height="1" fill="#0000ff"/><rect x="768" y="188" width="3" height="1" fill="#0000ff"/><rect x="774" y="188" width="3" height="1" fill="#0000ff"/><rect x="780" y="188" width="3" height="1" fill="#0000ff"/><rect x="786" y="188" width="3" height="1" fill="#0000ff"/><rect x="792" y="188" width="3" height="1" fill="#0000ff"/><rect x="798" y="188" width="3" height="1" fill="#0000ff"/><rect x="804" y="188" width="3" height="1" fill="#0000ff"/><rect x="810" y="188" width="3" height="1" fill="#0000ff"/><rect x="816" y="188" width="3" height="1" fill="#0000ff"/><rect x="822" y="188" width="3" height="1" fill="#0000ff"/><rect x="828" y="188" width="3" height="1" fill="#0000ff"/><rect x="834" y="188" width="3" height="1" fill="#0000ff"/><rect x="840" y="188" width="3" height="1" fill="#0000ff"/><rect x="846" y="188" width="3" height="1" fill="#0000ff"/><rect x="852" y="188" width="3" height="1" fill="#0000ff"/><rect x="858" y="188" width="3" height="1" fill="#0000ff"/><rect x="864" y="188" width="3" height="1" fill="#0000ff"/><rect x="870" y="188" width="3" height="1" fill="#0000ff"/><rect x="876" y="188" width="3" height="1" fill="#0000ff"/><rect x="882" y="188" width="3" height="1" fill="#0000ff"/><rect x="888" y="188" width="3" height="1" fill="#0000ff"/><rect x="894" y="188" width="3" height="1" fill="#0000ff"/><rect x="900" y="188" width="3" height="1" fill="#0000ff"/><rect x="906" y="188" width="3" height="1" fill="#0000ff"/><rect x="912" y="188" width="3" height="1" fill="#0000ff"/><rect x="918" y="188" width="3" height="1" fill="#0000ff"/><rect x="924" y="188" width="3" height="1" fill="#0000ff"/><rect x="0" y="262" width="3" height="1" fill="#0000ff"/><rect x="6" y="262" width="3" height="1" fill="#0000ff"/><rect x="12" y="262" width="3" height="1" fill="#0000ff"/><rect x="18" y="262" width="3" height="1" fill="#0000ff"/><rect x="24" y="262" width="3" height="1" fill="#0000ff"/><rect x="30" y="262" width="3" height="1" fill="#0000ff"/><rect x="36" y="262" width="3" height="1" fill="#0000ff"/><rect x="42" y="262" width="3" height="1" fill="#0000ff"/><rect x="48" y="262" width="3" height="1" fill="#0000ff"/><rect x="54" y="262" width="3" height="1" fill="#0000ff"/><rect x="60" y="262" width="3" height="1" fill="#0000ff"/><rect x="66" y="262" width="3" height="1" fill="#0000ff"/><rect x="72" y="262" width="3" height="1" fill="#0000ff"/><rect x="78" y="262" width="3" height="1" fill="#0000ff"/><rect x="84" y="262" width="3" height="1" fill="#0000ff"/><rect x="90" y="262" width="3" height="1" fill="#0000ff"/><rect x="96" y="262" width="3" height="1" fill="#0000ff"/><rect x="102" y="262" width="3" height="1" fill="#0000ff"/><rect x="108" y="262" width="3" height="1" fill="#0000ff"/><rect x="114" y="262" width="3" height="1" fill="#0000ff"/><rect x="120" y="262" width="3" height="1" fill="#0000ff"/><rect x="126" y="262" width="3" height="1" fill="#0000ff"/><rect x="132" y="262" width="3" height="1" fill="#0000ff"/><rect x="138" y="262" width="3" height="1" fill="#0000ff"/><rect x="144" y="262" width="3" height="1" fill="#0000ff"/><rect x="150" y="262" width="3" height="1" fill="#0000ff"/><rect x="156" y="262" width="3" height="1" fill="#0000ff"/><rect x="162" y="262" width="3" height="1" fill="#0000ff"/><rect x="168" y="262" width="3" height="1" fill="#0000ff"/><rect x="174" y="262" width="3" height="1" fill="#0000ff"/><rect x="180" y="262" width="3" height="1" fill="#0000ff"/><rect x="186" y="262" width="3" height="1" fill="#0000ff"/><rect x="192" y="262" width="3" height="1" fill="#0000ff"/><rect x="198" y="262" width="3" height="1" fill="#0000ff"/><rect x="204" y="262" width="3" height="1" fill="#0000ff"/><rect x="210" y="262" width="3" height="1" fill="#0000ff"/><rect x="216" y="262" width="3" height="1" fill="#0000ff"/><rect x="222" y="262" width="3" height="1" fill="#0000ff"/><rect x="228" y="262" width="3" height="1" fill="#0000ff"/><rect x="234" y="262" width="3" height="1" fill="#0000ff"/><rect x="240" y="262" width="3" height="1" fill="#0000ff"/><rect x="246" y="262" width="3" height="1" fill="#0000ff"/><rect x="252" y="262" width="3" height="1" fill="#0000ff"/><rect x="258" y="262" width="3" height="1" fill="#0000ff"/><rect x="264" y="262" width="3" height="1" fill="#0000ff"/><rect x="270" y="262" width="3" height="1" fill="#0000ff"/><rect x="276" y="262" width="3" height="1" fill="#0000ff"/><rect x="282" y="262" width="3" height="1" fill="#0000ff"/><rect x="288" y="262" width="3" height="1" fill="#0000ff"/><rect x="294" y="262" width="3" height="1" fill="#0000ff"/><rect x="300" y="262" width="3" height="1" fill="#0000ff"/><rect x="306" y="262" width="3" height="1" fill="#0000ff"/><rect x="312" y="262" width="3" height="1" fill="#0000ff"/><rect x="318" y="262" width="3" height="1" fill="#0000ff"/><rect x="324" y="262" width="3" height="1" fill="#0000ff"/><rect x="330" y="262" width="3" height="1" fill="#0000ff"/><rect x="336" y="262" width="3" height="1" fill="#0000ff"/><rect x="342" y="262" width="3" height="1" fill="#0000ff"/><rect x="348" y="262" width="3" height="1" fill="#0000ff"/><rect x="354" y="262" width="3" height="1" fill="#0000ff"/><rect x="360" y="262" width="3" height="1" fill="#0000ff"/><rect x="366" y="262" width="3" height="1" fill="#0000ff"/><rect x="372" y="262" width="3" height="1" fill="#0000ff"/><rect x="378" y="262" width="3" height="1" fill="#0000ff"/><rect x="384" y="262" width="3" height="1" fill="#0000ff"/><rect x="390" y="262" width="3" height="1" fill="#0000ff"/><rect x="396" y="262" width="3" height="1" fill="#0000ff"/><rect x="402" y="262" width="3" height="1" fill="#0000ff"/><rect x="408" y="262" width="3" height="1" fill="#0000ff"/><rect x="414" y="262" width="3" height="1" fill="#0000ff"/><rect x="420" y="262" width="3" height="1" fill="#0000ff"/><rect x="426" y="262" width="3" height="1" fill="#0000ff"/><rect x="432" y="262" width="3" height="1" fill="#0000ff"/><rect x="438" y="262" width="3" height="1" fill="#0000ff"/><rect x="444" y="262" width="3" height="1" fill="#0000ff"/><rect x="450" y="262" width="3" height="1" fill="#0000ff"/><rect x="456" y="262" width="3" height="1" fill="#0000ff"/><rect x="462" y="262" width="3" height="1" fill="#0000ff"/><rect x="468" y="262" width="3" height="1" fill="#0000ff"/><rect x="474" y="262" width="3" height="1" fill="#0000ff"/><rect x="480" y="262" width="3" height="1" fill="#0000ff"/><rect x="486" y="262" width="3" height="1" fill="#0000ff"/><rect x="492" y="262" width="3" height="1" fill="#0000ff"/><rect x="498" y="262" width="3" height="1" fill="#0000ff"/><rect x="504" y="262" width="3" height="1" fill="#0000ff"/><rect x="510" y="262" width="3" height="1" fill="#0000ff"/><rect x="516" y="262" width="3" height="1" fill="#0000ff"/><rect x="522" y="262" width="3" height="1" fill="#0000ff"/><rect x="528" y="262" width="3" height="1" fill="#0000ff"/><rect x="534" y="262" width="3" height="1" fill="#0000ff"/><rect x="540" y="262" width="3" height="1" fill="#0000ff"/><rect x="546" y="262" width="3" height="1" fill="#0000ff"/><rect x="552" y="262" width="3" height="1" fill="#0000ff"/><rect x="558" y="262" width="3" height="1" fill="#0000ff"/><rect x="564" y="262" width="3" height="1" fill="#0000ff"/><rect x="570" y="262" width="3" height="1" fill="#0000ff"/><rect x="576" y="262" width="3" height="1" fill="#0000ff"/><rect x="582" y="262" width="3" height="1" fill="#0000ff"/><rect x="588" y="262" width="3" height="1" fill="#0000ff"/><rect x="594" y="262" width="3" height="1" fill="#0000ff"/><rect x="600" y="262" width="3" height="1" fill="#0000ff"/><rect x="606" y="262" width="3" height="1" fill="#0000ff"/><rect x="612" y="262" width="3" height="1" fill="#0000ff"/><rect x="618" y="262" width="3" height="1" fill="#0000ff"/><rect x="624" y="262" width="3" height="1" fill="#0000ff"/><rect x="630" y="262" width="3" height="1" fill="#0000ff"/><rect x="636" y="262" width="3" height="1" fill="#0000ff"/><rect x="642" y="262" width="3" height="1" fill="#0000ff"/><rect x="648" y="262" width="3" height="1" fill="#0000ff"/><rect x="654" y="262" width="3" height="1" fill="#0000ff"/><rect x="660" y="262" width="3" height="1" fill="#0000ff"/><rect x="666" y="262" width="3" height="1" fill="#0000ff"/><rect x="672" y="262" width="3" height="1" fill="#0000ff"/><rect x="678" y="262" width="3" height="1" fill="#0000ff"/><rect x="684" y="262" width="3" height="1" fill="#0000ff"/><rect x="690" y="262" width="3" height="1" fill="#0000ff"/><rect x="696" y="262" width="3" height="1" fill="#0000ff"/><rect x="702" y="262" width="3" height="1" fill="#0000ff"/><rect x="708" y="262" width="3" height="1" fill="#0000ff"/><rect x="714" y="262" width="3" height="1" fill="#0000ff"/><rect x="720" y="262" width="3" height="1" fill="#0000ff"/><rect x="726" y="262" width="3" height="1" fill="#0000ff"/><rect x="732" y="262" width="3" height="1" fill="#0000ff"/><rect x="738" y="262" width="3" height="1" fill="#0000ff"/><rect x="744" y="262" width="3" height="1" fill="#0000ff"/><rect x="750" y="262" width="3" height="1" fill="#0000ff"/><rect x="756" y="262" width="3" height="1" fill="#0000ff"/><rect x="762" y="262" width="3" height="1" fill="#0000ff"/><rect x="768" y="262" width="3" height="1" fill="#0000ff"/><rect x="774" y="262" width="3" height="1" fill="#0000ff"/><rect x="780" y="262" width="3" height="1" fill="#0000ff"/><rect x="786" y="262" width="3" height="1" fill="#0000ff"/><rect x="792" y="262" width="3" height="1" fill="#0000ff"/><rect x="798" y="262" width="3" height="1" fill="#0000ff"/><rect x="804" y="262" width="3" height="1" fill="#0000ff"/><rect x="810" y="262" width="3" height="1" fill="#0000ff"/><rect x="816" y="262" width="3" height="1" fill="#0000ff"/><rect x="822" y="262" width="3" height="1" fill="#0000ff"/><rect x="828" y="262" width="3" height="1" fill="#0000ff"/><rect x="834" y="262" width="3" height="1" fill="#0000ff"/><rect x="840" y="262" width="3" height="1" fill="#0000ff"/><rect x="846" y="262" width="3" height="1" fill="#0000ff"/><rect x="852" y="262" width="3" height="1" fill="#0000ff"/><rect x="858" y="262" width="3" height="1" fill="#0000ff"/><rect x="864" y="262" width="3" height="1" fill="#0000ff"/><rect x="870" y="262" width="3" height="1" fill="#0000ff"/><rect x="876" y="262" width="3" height="1" fill="#0000ff"/><rect x="882" y="262" width="3" height="1" fill="#0000ff"/><rect x="888" y="262" width="3" height="1" fill="#0000ff"/><rect x="894" y="262" width="3" height="1" fill="#0000ff"/><rect x="900" y="262" width="3" height="1" fill="#0000ff"/><rect x="906" y="262" width="3" height="1" fill="#0000ff"/><rect x="912" y="262" width="3" height="1" fill="#0000ff"/><rect x="918" y="262" width="3" height="1" fill="#0000ff"/><rect x="924" y="262" width="3" height="1" fill="#0000ff"/><rect x="246" y="498" width="3" height="1" fill="#0000ff"/><rect x="252" y="498" width="3" height="1" fill="#0000ff"/><rect x="258" y="498" width="3" height="1" fill="#0000ff"/><rect x="264" y="498" width="3" height="1" fill="#0000ff"/><rect x="270" y="498" width="3" height="1" fill="#0000ff"/><rect x="276" y="498" width="3" height="1" fill="#0000ff"/><rect x="282" y="498" width="3" height="1" fill="#0000ff"/><rect x="288" y="498" width="3" height="1" fill="#0000ff"/><rect x="294" y="498" width="3" height="1" fill="#0000ff"/><rect x="300" y="498" width="3" height="1" fill="#0000ff"/><rect x="306" y="498" width="3" height="1" fill="#0000ff"/><rect x="312" y="498" width="3" height="1" fill="#0000ff"/><rect x="318" y="498" width="3" height="1" fill="#0000ff"/><rect x="324" y="498" width="3" height="1" fill="#0000ff"/><rect x="330" y="498" width="3" height="1" fill="#0000ff"/><rect x="336" y="498" width="3" height="1" fill="#0000ff"/><rect x="342" y="498" width="3" height="1" fill="#0000ff"/><rect x="348" y="498" width="3" height="1" fill="#0000ff"/><rect x="354" y="498" width="3" height="1" fill="#0000ff"/><rect x="360" y="498" width="3" height="1" fill="#0000ff"/><rect x="366" y="498" width="3" height="1" fill="#0000ff"/><rect x="372" y="498" width="3" height="1" fill="#0000ff"/><rect x="378" y="498" width="3" height="1" fill="#0000ff"/><rect x="384" y="498" width="3" height="1" fill="#0000ff"/><rect x="390" y="498" width="3" height="1" fill="#0000ff"/><rect x="396" y="498" width="3" height="1" fill="#0000ff"/><rect x="402" y="498" width="3" height="1" fill="#0000ff"/><rect x="408" y="498" width="3" height="1" fill="#0000ff"/><rect x="414" y="498" width="3" height="1" fill="#0000ff"/><rect x="420" y="498" width="3" height="1" fill="#0000ff"/><rect x="426" y="498" width="3" height="1" fill="#0000ff"/><rect x="432" y="498" width="3" height="1" fill="#0000ff"/><rect x="438" y="498" width="3" height="1" fill="#0000ff"/><rect x="444" y="498" width="3" height="1" fill="#0000ff"/><rect x="450" y="498" width="3" height="1" fill="#0000ff"/><rect x="456" y="498" width="3" height="1" fill="#0000ff"/><rect x="462" y="498" width="3" height="1" fill="#0000ff"/><rect x="468" y="498" width="3" height="1" fill="#0000ff"/><rect x="474" y="498" width="3" height="1" fill="#0000ff"/><rect x="480" y="498" width="3" height="1" fill="#0000ff"/><rect x="486" y="498" width="3" height="1" fill="#0000ff"/><rect x="492" y="498" width="3" height="1" fill="#0000ff"/><rect x="498" y="498" width="3" height="1" fill="#0000ff"/><rect x="504" y="498" width="3" height="1" fill="#0000ff"/><rect x="510" y="498" width="3" height="1" fill="#0000ff"/><rect x="516" y="498" width="3" height="1" fill="#0000ff"/><rect x="522" y="498" width="3" height="1" fill="#0000ff"/><rect x="528" y="498" width="3" height="1" fill="#0000ff"/><rect x="534" y="498" width="3" height="1" fill="#0000ff"/><rect x="540" y="498" width="3" height="1" fill="#0000ff"/><rect x="546" y="498" width="3" height="1" fill="#0000ff"/><rect x="552" y="498" width="3" height="1" fill="#0000ff"/><rect x="558" y="498" width="3" height="1" fill="#0000ff"/><rect x="564" y="498" width="3" height="1" fill="#0000ff"/><rect x="570" y="498" width="3" height="1" fill="#0000ff"/><rect x="576" y="498" width="3" height="1" fill="#0000ff"/><rect x="582" y="498" width="3" height="1" fill="#0000ff"/><rect x="588" y="498" width="3" height="1" fill="#0000ff"/><rect x="594" y="498" width="3" height="1" fill="#0000ff"/><rect x="600" y="498" width="3" height="1" fill="#0000ff"/><rect x="606" y="498" width="3" height="1" fill="#0000ff"/><rect x="612" y="498" width="3" height="1" fill="#0000ff"/><rect x="618" y="498" width="3" height="1" fill="#0000ff"/><rect x="624" y="498" width="3" height="1" fill="#0000ff"/><rect x="630" y="498" width="3" height="1" fill="#0000ff"/><rect x="636" y="498" width="3" height="1" fill="#0000ff"/><rect x="642" y="498" width="3" height="1" fill="#0000ff"/><rect x="648" y="498" width="3" height="1" fill="#0000ff"/><rect x="654" y="498" width="3" height="1" fill="#0000ff"/><rect x="660" y="498" width="3" height="1" fill="#0000ff"/><rect x="666" y="498" width="3" height="1" fill="#0000ff"/><rect x="672" y="498" width="3" height="1" fill="#0000ff"/><rect x="678" y="498" width="3" height="1" fill="#0000ff"/><rect x="684" y="498" width="3" height="1" fill="#0000ff"/><rect x="690" y="498" width="3" height="1" fill="#0000ff"/><rect x="696" y="498" width="3" height="1" fill="#0000ff"/><rect x="702" y="498" width="3" height="1" fill="#0000ff"/><rect x="708" y="498" width="3" height="1" fill="#0000ff"/><rect x="714" y="498" width="3" height="1" fill="#0000ff"/><rect x="720" y="498" width="3" height="1" fill="#0000ff"/><rect x="726" y="498" width="3" height="1" fill="#0000ff"/><rect x="732" y="498" width="3" height="1" fill="#0000ff"/><rect x="738" y="498" width="3" height="1" fill="#0000ff"/><rect x="744" y="498" width="3" height="1" fill="#0000ff"/><rect x="750" y="498" width="3" height="1" fill="#0000ff"/><rect x="756" y="498" width="3" height="1" fill="#0000ff"/><rect x="762" y="498" width="3" height="1" fill="#0000ff"/><rect x="768" y="498" width="3" height="1" fill="#0000ff"/><rect x="774" y="498" width="3" height="1" fill="#0000ff"/><rect x="780" y="498" width="3" height="1" fill="#0000ff"/><rect x="786" y="498" width="3" height="1" fill="#0000ff"/><rect x="792" y="498" width="3" height="1" fill="#0000ff"/><rect x="798" y="498" width="3" height="1" fill="#0000ff"/><rect x="804" y="498" width="3" height="1" fill="#0000ff"/><rect x="810" y="498" width="3" height="1" fill="#0000ff"/><rect x="816" y="498" width="3" height="1" fill="#0000ff"/><rect x="822" y="498" width="3" height="1" fill="#0000ff"/><rect x="828" y="498" width="3" height="1" fill="#0000ff"/><rect x="834" y="498" width="3" height="1" fill="#0000ff"/><rect x="840" y="498" width="3" height="1" fill="#0000ff"/><rect x="846" y="498" width="3" height="1" fill="#0000ff"/><rect x="852" y="498" width="3" height="1" fill="#0000ff"/><rect x="858" y="498" width="3" height="1" fill="#0000ff"/><rect x="864" y="498" width="3" height="1" fill="#0000ff"/><rect x="870" y="498" width="3" height="1" fill="#0000ff"/><rect x="876" y="498" width="3" height="1" fill="#0000ff"/><rect x="882" y="498" width="3" height="1" fill="#0000ff"/><rect x="888" y="498" width="3" height="1" fill="#0000ff"/><rect x="894" y="498" width="3" height="1" fill="#0000ff"/><rect x="900" y="498" width="3" height="1" fill="#0000ff"/><rect x="906" y="498" width="3" height="1" fill="#0000ff"/><rect x="912" y="498" width="3" height="1" fill="#0000ff"/><rect x="918" y="498" width="3" height="1" fill="#0000ff"/><rect x="924" y="498" width="3" height="1" fill="#0000ff"/><rect x="2" y="549" width="3" height="1" fill="#0000ff"/><rect x="8" y="549" width="3" height="1" fill="#0000ff"/><rect x="14" y="549" width="3" height="1" fill="#0000ff"/><rect x="20" y="549" width="3" height="1" fill="#0000ff"/><rect x="26" y="549" width="3" height="1" fill="#0000ff"/><rect x="32" y="549" width="3" height="1" fill="#0000ff"/><rect x="38" y="549" width="3" height="1" fill="#0000ff"/><rect x="44" y="549" width="3" height="1" fill="#0000ff"/><rect x="50" y="549" width="3" height="1" fill="#0000ff"/><rect x="56" y="549" width="3" height="1" fill="#0000ff"/><rect x="62" y="549" width="3" height="1" fill="#0000ff"/><rect x="68" y="549" width="3" height="1" fill="#0000ff"/><rect x="74" y="549" width="3" height="1" fill="#0000ff"/><rect x="80" y="549" width="3" height="1" fill="#0000ff"/><rect x="86" y="549" width="3" height="1" fill="#0000ff"/><rect x="92" y="549" width="3" height="1" fill="#0000ff"/><rect x="98" y="549" width="3" height="1" fill="#0000ff"/><rect x="104" y="549" width="3" height="1" fill="#0000ff"/><rect x="110" y="549" width="3" height="1" fill="#0000ff"/><rect x="116" y="549" width="3" height="1" fill="#0000ff"/><rect x="122" y="549" width="3" height="1" fill="#0000ff"/><rect x="128" y="549" width="3" height="1" fill="#0000ff"/><rect x="134" y="549" width="3" height="1" fill="#0000ff"/><rect x="140" y="549" width="3" height="1" fill="#0000ff"/><rect x="146" y="549" width="3" height="1" fill="#0000ff"/><rect x="152" y="549" width="3" height="1" fill="#0000ff"/><rect x="158" y="549" width="3" height="1" fill="#0000ff"/><rect x="164" y="549" width="3" height="1" fill="#0000ff"/><rect x="170" y="549" width="3" height="1" fill="#0000ff"/><rect x="176" y="549" width="3" height="1" fill="#0000ff"/><rect x="182" y="549" width="3" height="1" fill="#0000ff"/><rect x="188" y="549" width="3" height="1" fill="#0000ff"/><rect x="194" y="549" width="3" height="1" fill="#0000ff"/><rect x="200" y="549" width="3" height="1" fill="#0000ff"/><rect x="206" y="549" width="3" height="1" fill="#0000ff"/><rect x="212" y="549" width="3" height="1" fill="#0000ff"/><rect x="218" y="549" width="3" height="1" fill="#0000ff"/><rect x="224" y="549" width="3" height="1" fill="#0000ff"/><rect x="230" y="549" width="3" height="1" fill="#0000ff"/><rect x="236" y="549" width="3" height="1" fill="#0000ff"/><rect x="242" y="549" width="3" height="1" fill="#0000ff"/><rect x="248" y="549" width="3" height="1" fill="#0000ff"/><rect x="254" y="549" width="3" height="1" fill="#0000ff"/><rect x="260" y="549" width="3" height="1" fill="#0000ff"/><rect x="266" y="549" width="3" height="1" fill="#0000ff"/><rect x="272" y="549" width="3" height="1" fill="#0000ff"/><rect x="278" y="549" width="3" height="1" fill="#0000ff"/><rect x="284" y="549" width="3" height="1" fill="#0000ff"/><rect x="290" y="549" width="3" height="1" fill="#0000ff"/><rect x="296" y="549" width="3" height="1" fill="#0000ff"/><rect x="302" y="549" width="3" height="1" fill="#0000ff"/><rect x="308" y="549" width="3" height="1" fill="#0000ff"/><rect x="314" y="549" width="3" height="1" fill="#0000ff"/><rect x="320" y="549" width="3" height="1" fill="#0000ff"/><rect x="326" y="549" width="3" height="1" fill="#0000ff"/><rect x="332" y="549" width="3" height="1" fill="#0000ff"/><rect x="338" y="549" width="3" height="1" fill="#0000ff"/><rect x="344" y="549" width="3" height="1" fill="#0000ff"/><rect x="350" y="549" width="3" height="1" fill="#0000ff"/><rect x="356" y="549" width="3" height="1" fill="#0000ff"/><rect x="362" y="549" width="3" height="1" fill="#0000ff"/><rect x="368" y="549" width="3" height="1" fill="#0000ff"/><rect x="374" y="549" width="3" height="1" fill="#0000ff"/><rect x="380" y="549" width="3" height="1" fill="#0000ff"/><rect x="386" y="549" width="3" height="1" fill="#0000ff"/><rect x="392" y="549" width="3" height="1" fill="#0000ff"/><rect x="398" y="549" width="3" height="1" fill="#0000ff"/><rect x="404" y="549" width="3" height="1" fill="#0000ff"/><rect x="410" y="549" width="3" height="1" fill="#0000ff"/><rect x="416" y="549" width="3" height="1" fill="#0000ff"/><rect x="422" y="549" width="3" height="1" fill="#0000ff"/><rect x="428" y="549" width="3" height="1" fill="#0000ff"/><rect x="434" y="549" width="3" height="1" fill="#0000ff"/><rect x="440" y="549" width="3" height="1" fill="#0000ff"/><rect x="446" y="549" width="3" height="1" fill="#0000ff"/><rect x="452" y="549" width="3" height="1" fill="#0000ff"/><rect x="458" y="549" width="3" height="1" fill="#0000ff"/><rect x="464" y="549" width="3" height="1" fill="#0000ff"/><rect x="470" y="549" width="3" height="1" fill="#0000ff"/><rect x="476" y="549" width="3" height="1" fill="#0000ff"/><rect x="482" y="549" width="3" height="1" fill="#0000ff"/><rect x="488" y="549" width="3" height="1" fill="#0000ff"/><rect x="494" y="549" width="3" height="1" fill="#0000ff"/><rect x="500" y="549" width="3" height="1" fill="#0000ff"/><rect x="506" y="549" width="3" height="1" fill="#0000ff"/><rect x="512" y="549" width="3" height="1" fill="#0000ff"/><rect x="518" y="549" width="3" height="1" fill="#0000ff"/><rect x="524" y="549" width="3" height="1" fill="#0000ff"/><rect x="530" y="549" width="3" height="1" fill="#0000ff"/><rect x="536" y="549" width="3" height="1" fill="#0000ff"/><rect x="542" y="549" width="3" height="1" fill="#0000ff"/><rect x="548" y="549" width="3" height="1" fill="#0000ff"/><rect x="554" y="549" width="3" height="1" fill="#0000ff"/><rect x="560" y="549" width="3" height="1" fill="#0000ff"/><rect x="566" y="549" width="3" height="1" fill="#0000ff"/><rect x="572" y="549" width="3" height="1" fill="#0000ff"/><rect x="578" y="549" width="3" height="1" fill="#0000ff"/><rect x="584" y="549" width="3" height="1" fill="#0000ff"/><rect x="590" y="549" width="3" height="1" fill="#0000ff"/><rect x="596" y="549" width="3" height="1" fill="#0000ff"/><rect x="602" y="549" width="3" height="1" fill="#0000ff"/><rect x="608" y="549" width="3" height="1" fill="#0000ff"/><rect x="614" y="549" width="3" height="1" fill="#0000ff"/><rect x="620" y="549" width="3" height="1" fill="#0000ff"/><rect x="626" y="549" width="3" height="1" fill="#0000ff"/><rect x="632" y="549" width="3" height="1" fill="#0000ff"/><rect x="638" y="549" width="3" height="1" fill="#0000ff"/><rect x="644" y="549" width="3" height="1" fill="#0000ff"/><rect x="650" y="549" width="3" height="1" fill="#0000ff"/><rect x="656" y="549" width="3" height="1" fill="#0000ff"/><rect x="662" y="549" width="3" height="1" fill="#0000ff"/><rect x="668" y="549" width="3" height="1" fill="#0000ff"/><rect x="674" y="549" width="3" height="1" fill="#0000ff"/><rect x="680" y="549" width="3" height="1" fill="#0000ff"/><rect x="686" y="549" width="3" height="1" fill="#0000ff"/><rect x="692" y="549" width="3" height="1" fill="#0000ff"/><rect x="698" y="549" width="3" height="1" fill="#0000ff"/><rect x="704" y="549" width="3" height="1" fill="#0000ff"/><rect x="710" y="549" width="3" height="1" fill="#0000ff"/><rect x="716" y="549" width="3" height="1" fill="#0000ff"/><rect x="722" y="549" width="3" height="1" fill="#0000ff"/><rect x="728" y="549" width="3" height="1" fill="#0000ff"/><rect x="734" y="549" width="3" height="1" fill="#0000ff"/><rect x="740" y="549" width="3" height="1" fill="#0000ff"/><rect x="746" y="549" width="3" height="1" fill="#0000ff"/><rect x="752" y="549" width="3" height="1" fill="#0000ff"/><rect x="758" y="549" width="3" height="1" fill="#0000ff"/><rect x="764" y="549" width="3" height="1" fill="#0000ff"/><rect x="770" y="549" width="3" height="1" fill="#0000ff"/><rect x="776" y="549" width="3" height="1" fill="#0000ff"/><rect x="782" y="549" width="3" height="1" fill="#0000ff"/><rect x="788" y="549" width="3" height="1" fill="#0000ff"/><rect x="794" y="549" width="3" height="1" fill="#0000ff"/><rect x="800" y="549" width="3" height="1" fill="#0000ff"/><rect x="806" y="549" width="3" height="1" fill="#0000ff"/><rect x="812" y="549" width="3" height="1" fill="#0000ff"/><rect x="818" y="549" width="3" height="1" fill="#0000ff"/><rect x="824" y="549" width="3" height="1" fill="#0000ff"/><rect x="830" y="549" width="3" height="1" fill="#0000ff"/><rect x="836" y="549" width="3" height="1" fill="#0000ff"/><rect x="842" y="549" width="3" height="1" fill="#0000ff"/><rect x="848" y="549" width="3" height="1" fill="#0000ff"/><rect x="854" y="549" width="3" height="1" fill="#0000ff"/><rect x="860" y="549" width="3" height="1" fill="#0000ff"/><rect x="866" y="549" width="3" height="1" fill="#0000ff"/><rect x="872" y="549" width="3" height="1" fill="#0000ff"/><rect x="878" y="549" width="3" height="1" fill="#0000ff"/><rect x="884" y="549" width="3" height="1" fill="#0000ff"/><rect x="890" y="549" width="3" height="1" fill="#0000ff"/><rect x="896" y="549" width="3" height="1" fill="#0000ff"/><rect x="902" y="549" width="3" height="1" fill="#0000ff"/><rect x="908" y="549" width="3" height="1" fill="#0000ff"/><rect x="914" y="549" width="3" height="1" fill="#0000ff"/><rect x="920" y="549" width="3" height="1" fill="#0000ff"/><rect x="926" y="549" width="2" height="1" fill="#0000ff"/><rect x="0" y="0" width="929" height="1" fill="#000"/><rect x="928" y="0" width="1" height="590" fill="#000"/><rect x="0" y="589" width="929" height="1" fill="#000"/><rect x="929" y="583" width="3" height="1" fill="#000"/><rect x="929" y="580" width="3" height="1" fill="#000"/><rect x="929" y="577" width="3" height="1" fill="#000"/><rect x="929" y="573" width="8" height="1" fill="#000"/><rect x="929" y="570" width="3" height="1" fill="#000"/><rect x="929" y="566" width="3" height="1" fill="#000"/><rect x="929" y="563" width="3" height="1" fill="#000"/><rect x="929" y="559" width="3" height="1" fill="#000"/><rect x="929" y="556" width="8" height="1" fill="#000"/><rect x="929" y="552" width="3" height="1" fill="#000"/><rect x="929" y="549" width="3" height="1" fill="#000"/><rect x="929" y="546" width="3" height="1" fill="#000"/><rect x="929" y="542" width="3" height="1" fill="#000"/><rect x="929" y="539" width="8" height="1" fill="#000"/><rect x="929" y="535" width="3" height="1" fill="#000"/><rect x="929" y="532" width="3" height="1" fill="#000"/><rect x="929" y="528" width="3" height="1" fill="#000"/><rect x="929" y="525" width="3" height="1" fill="#000"/><rect x="929" y="521" width="8" height="1" fill="#000"/><rect x="929" y="518" width="3" height="1" fill="#000"/><rect x="929" y="515" width="3" height="1" fill="#000"/><rect x="929" y="511" width="3" height="1" fill="#000"/><rect x="929" y="508" width="3" height="1" fill="#000"/><rect x="929" y="504" width="8" height="1" fill="#000"/><rect x="929" y="501" width="3" height="1" fill="#000"/><rect x="929" y="497" width="3" height="1" fill="#000"/><rect x="929" y="494" width="3" height="1" fill="#000"/><rect x="929" y="490" width="3" height="1" fill="#000"/><rect x="929" y="487" width="8" height="1" fill="#000"/><rect x="929" y="483" width="3" height="1" fill="#000"/><rect x="929" y="480" width="3" height="1" fill="#000"/><rect x="929" y="477" width="3" height="1" fill="#000"/><rect x="929" y="473" width="3" height="1" fill="#000"/><rect x="929" y="470" width="8" height="1" fill="#000"/><rect x="929" y="466" width="3" height="1" fill="#000"/><rect x="929" y="463" width="3" height="1" fill="#000"/><rect x="929" y="459" width="3" height="1" fill="#000"/><rect x="929" y="456" width="3" height="1" fill="#000"/><rect x="929" y="452" width="8" height="1" fill="#000"/><rect x="929" y="449" width="3" height="1" fill="#000"/><rect x="929" y="446" width="3" height="1" fill="#000"/><rect x="929" y="442" width="3" height="1" fill="#000"/><rect x="929" y="439" width="3" height="1" fill="#000"/><rect x="929" y="435" width="8" height="1" fill="#000"/><rect x="929" y="432" width="3" height="1" fill="#000"/><rect x="929" y="428" width="3" height="1" fill="#000"/><rect x="929" y="425" width="3" height="1" fill="#000"/><rect x="929" y="421" width="3" height="1" fill="#000"/><rect x="929" y="418" width="8" height="1" fill="#000"/><rect x="929" y="414" width="3" height="1" fill="#000"/><rect x="929" y="411" width="3" height="1" fill="#000"/><rect x="929" y="408" width="3" height="1" fill="#000"/><rect x="929" y="404" width="3" height="1" fill="#000"/><rect x="929" y="401" width="8" height="1" fill="#000"/><rect x="929" y="397" width="3" height="1" fill="#000"/><rect x="929" y="394" width="3" height="1" fill="#000"/><rect x="929" y="390" width="3" height="1" fill="#000"/><rect x="929" y="387" width="3" height="1" fill="#000"/><rect x="929" y="383" width="8" height="1" fill="#000"/><rect x="929" y="380" width="3" height="1" fill="#000"/><rect x="929" y="377" width="3" height="1" fill="#000"/><rect x="929" y="373" width="3" height="1" fill="#000"/><rect x="929" y="370" width="3" height="1" fill="#000"/><rect x="929" y="366" width="8" height="1" fill="#000"/><rect x="929" y="363" width="3" height="1" fill="#000"/><rect x="929" y="359" width="3" height="1" fill="#000"/><rect x="929" y="356" width="3" height="1" fill="#000"/><rect x="929" y="352" width="3" height="1" fill="#000"/><rect x="929" y="349" width="8" height="1" fill="#000"/><rect x="929" y="346" width="3" height="1" fill="#000"/><rect x="929" y="342" width="3" height="1" fill="#000"/><rect x="929" y="339" width="3" height="1" fill="#000"/><rect x="929" y="335" width="3" height="1" fill="#000"/><rect x="929" y="332" width="8" height="1" fill="#000"/><rect x="929" y="328" width="3" height="1" fill="#000"/><rect x="929" y="325" width="3" height="1" fill="#000"/><rect x="929" y="321" width="3" height="1" fill="#000"/><rect x="929" y="318" width="3" height="1" fill="#000"/><rect x="929" y="314" width="8" height="1" fill="#000"/><rect x="929" y="311" width="3" height="1" fill="#000"/><rect x="929" y="308" width="3" height="1" fill="#000"/><rect x="929" y="304" width="3" height="1" fill="#000"/><rect x="929" y="301" width="3" height="1" fill="#000"/><rect x="929" y="297" width="8" height="1" fill="#000"/><rect x="929" y="294" width="3" height="1" fill="#000"/><rect x="929" y="290" width="3" height="1" fill="#000"/><rect x="929" y="287" width="3" height="1" fill="#000"/><rect x="929" y="283" width="3" height="1" fill="#000"/><rect x="929" y="280" width="8" height="1" fill="#000"/><rect x="929" y="277" width="3" height="1" fill="#000"/><rect x="929" y="273" width="3" height="1" fill="#000"/><rect x="929" y="270" width="3" height="1" fill="#000"/><rect x="929" y="266" width="3" height="1" fill="#000"/><rect x="929" y="263" width="8" height="1" fill="#000"/><rect x="929" y="259" width="3" height="1" fill="#000"/><rect x="929" y="256" width="3" height="1" fill="#000"/><rect x="929" y="252" width="3" height="1" fill="#000"/><rect x="929" y="249" width="3" height="1" fill="#000"/><rect x="929" y="245" width="8" height="1" fill="#000"/><rect x="929" y="242" width="3" height="1" fill="#000"/><rect x="929" y="239" width="3" height="1" fill="#000"/><rect x="929" y="235" width="3" height="1" fill="#000"/><rect x="929" y="232" width="3" height="1" fill="#000"/><rect x="929" y="228" width="8" height="1" fill="#000"/><rect x="929" y="225" width="3" height="1" fill="#000"/><rect x="929" y="221" width="3" height="1" fill="#000"/><rect x="929" y="218" width="3" height="1" fill="#000"/><rect x="929" y="214" width="3" height="1" fill="#000"/><rect x="929" y="211" width="8" height="1" fill="#000"/><rect x="929" y="208" width="3" height="1" fill="#000"/><rect x="929" y="204" width="3" height="1" fill="#000"/><rect x="929" y="201" width="3" height="1" fill="#000"/><rect x="929" y="197" width="3" height="1" fill="#000"/><rect x="929" y="194" width="8" height="1" fill="#000"/><rect x="929" y="190" width="3" height="1" fill="#000"/><rect x="929" y="187" width="3" height="1" fill="#000"/><rect x="929" y="183" width="3" height="1" fill="#000"/><rect x="929" y="180" width="3" height="1" fill="#000"/><rect x="929" y="177" width="8" height="1" fill="#000"/><rect x="929" y="173" width="3" height="1" fill="#000"/><rect x="929" y="170" width="3" height="1" fill="#000"/><rect x="929" y="166" width="3" height="1" fill="#000"/><rect x="929" y="163" width="3" height="1" fill="#000"/><rect x="929" y="159" width="8" height="1" fill="#000"/><rect x="929" y="156" width="3" height="1" fill="#000"/><rect x="929" y="152" width="3" height="1" fill="#000"/><rect x="929" y="149" width="3" height="1" fill="#000"/><rect x="929" y="145" width="3" height="1" fill="#000"/><rect x="929" y="142" width="8" height="1" fill="#000"/><rect x="929" y="139" width="3" height="1" fill="#000"/><rect x="929" y="135" width="3" height="1" fill="#000"/><rect x="929" y="132" width="3" height="1" fill="#000"/><rect x="929" y="128" width="3" height="1" fill="#000"/><rect x="929" y="125" width="8" height="1" fill="#000"/><rect x="929" y="121" width="3" height="1" fill="#000"/><rect x="929" y="118" width="3" height="1" fill="#000"/><rect x="929" y="114" width="3" height="1" fill="#000"/><rect x="929" y="111" width="3" height="1" fill="#000"/><rect x="929" y="108" width="8" height="1" fill="#000"/><rect x="929" y="104" width="3" height="1" fill="#000"/><rect x="929" y="101" width="3" height="1" fill="#000"/><rect x="929" y="97" width="3" height="1" fill="#000"/><rect x="929" y="94" width="3" height="1" fill="#000"/><rect x="929" y="90" width="8" height="1" fill="#000"/><rect x="929" y="87" width="3" height="1" fill="#000"/><rect x="929" y="83" width="3" height="1" fill="#000"/><rect x="929" y="80" width="3" height="1" fill="#000"/><rect x="929" y="76" width="3" height="1" fill="#000"/><rect x="929" y="73" width="8" height="1" fill="#000"/><rect x="929" y="70" width="3" height="1" fill="#000"/><rect x="929" y="66" width="3" height="1" fill="#000"/><rect x="929" y="63" width="3" height="1" fill="#000"/><rect x="929" y="59" width="3" height="1" fill="#000"/><rect x="929" y="56" width="8" height="1" fill="#000"/><rect x="929" y="52" width="3" height="1" fill="#000"/><rect x="929" y="49" width="3" height="1" fill="#000"/><rect x="929" y="45" width="3" height="1" fill="#000"/><rect x="929" y="42" width="3" height="1" fill="#000"/><rect x="929" y="39" width="8" height="1" fill="#000"/><rect x="929" y="35" width="3" height="1" fill="#000"/><rect x="929" y="32" width="3" height="1" fill="#000"/><rect x="929" y="28" width="3" height="1" fill="#000"/><rect x="929" y="25" width="3" height="1" fill="#000"/><rect x="929" y="21" width="8" height="1" fill="#000"/><rect x="929" y="18" width="3" height="1" fill="#000"/><rect x="929" y="14" width="3" height="1" fill="#000"/><rect x="929" y="11" width="3" height="1" fill="#000"/><rect x="929" y="8" width="3" height="1" fill="#000"/><rect x="929" y="4" width="8" height="1" fill="#000"/><rect x="929" y="1" width="3" height="1" fill="#000"/><rect x="11" y="590" width="1" height="4" fill="#000"/><rect x="43" y="590" width="1" height="4" fill="#000"/><rect x="76" y="590" width="1" height="4" fill="#000"/><rect x="107" y="590" width="1" height="4" fill="#000"/><rect x="140" y="590" width="1" height="4" fill="#000"/><rect x="173" y="590" width="1" height="4" fill="#000"/><rect x="204" y="590" width="1" height="4" fill="#000"/><rect x="237" y="590" width="1" height="4" fill="#000"/><rect x="293" y="590" width="1" height="4" fill="#000"/><rect x="326" y="590" width="1" height="4" fill="#000"/><rect x="358" y="590" width="1" height="4" fill="#000"/><rect x="390" y="590" width="1" height="4" fill="#000"/><rect x="422" y="590" width="1" height="4" fill="#000"/><rect x="455" y="590" width="1" height="4" fill="#000"/><rect x="487" y="590" width="1" height="4" fill="#000"/><rect x="519" y="590" width="1" height="4" fill="#000"/><rect x="575" y="590" width="1" height="4" fill="#000"/><rect x="608" y="590" width="1" height="4" fill="#000"/><rect x="641" y="590" width="1" height="4" fill="#000"/><rect x="672" y="590" width="1" height="4" fill="#000"/><rect x="705" y="590" width="1" height="4" fill="#000"/><rect x="737" y="590" width="1" height="4" fill="#000"/><rect x="769" y="590" width="1" height="4" fill="#000"/><rect x="802" y="590" width="1" height="4" fill="#000"/><rect x="834" y="590" width="1" height="4" fill="#000"/><rect x="867" y="590" width="1" height="4" fill="#000"/><rect x="898" y="590" width="1" height="4" fill="#000"/><rect x="262" y="590" width="1" height="20" fill="#000"/><rect x="544" y="590" width="1" height="20" fill="#000"/><rect x="290" y="10" width="271" height="16" fill="#000"/><rect x="291" y="11" width="269" height="14" fill="#fff"/><text x="291.7" y="22" font-size="12.5" fill="#000" font-family='"Liberation Sans", sans-serif' textLength="27.2" lengthAdjust="spacingAndGlyphs">AEX</text><text x="324.3" y="22" font-size="12.5" fill="#000" font-family='"Liberation Sans", sans-serif' textLength="98.9" lengthAdjust="spacingAndGlyphs">kwartiergrafiek</text><text x="427.8" y="22" font-size="12.5" fill="#000" font-family='"Liberation Sans", sans-serif' textLength="44.7" lengthAdjust="spacingAndGlyphs">vrijdag</text><text x="478.4" y="22" font-size="12.5" fill="#000" font-family='"Liberation Sans", sans-serif' textLength="15.2" lengthAdjust="spacingAndGlyphs">28</text><text x="499.0" y="22" font-size="12.5" fill="#000" font-family='"Liberation Sans", sans-serif' textLength="20.3" lengthAdjust="spacingAndGlyphs">jan</text><text x="524.8" y="22" font-size="12.5" fill="#000" font-family='"Liberation Sans", sans-serif' textLength="32.7" lengthAdjust="spacingAndGlyphs">2022</text><text x="951.5" y="580" font-size="12.5" fill="#000" font-family='"Liberation Sans", sans-serif' textLength="23.3" lengthAdjust="spacingAndGlyphs">733</text><text x="951.5" y="563" font-size="12.5" fill="#000" font-family='"Liberation Sans", sans-serif' textLength="23.3" lengthAdjust="spacingAndGlyphs">734</text><text x="951.5" y="545" font-size="12.5" fill="#000" font-family='"Liberation Sans", sans-serif' textLength="23.3" lengthAdjust="spacingAndGlyphs">735</text><text x="951.5" y="528" font-size="12.5" fill="#000" font-family='"Liberation Sans", sans-serif' textLength="23.3" lengthAdjust="spacingAndGlyphs">736</text><text x="951.5" y="511" font-size="12.5" fill="#000" font-family='"Liberation Sans", sans-serif' textLength="23.3" lengthAdjust="spacingAndGlyphs">737</text><text x="951.5" y="494" font-size="12.5" fill="#000" font-family='"Liberation Sans", sans-serif' textLength="23.3" lengthAdjust="spacingAndGlyphs">738</text><text x="951.5" y="476" font-size="12.5" fill="#000" font-family='"Liberation Sans", sans-serif' textLength="23.3" lengthAdjust="spacingAndGlyphs">739</text><text x="951.5" y="459" font-size="12.5" fill="#000" font-family='"Liberation Sans", sans-serif' textLength="23.3" lengthAdjust="spacingAndGlyphs">740</text><text x="951.5" y="442" font-size="12.5" fill="#000" font-family='"Liberation Sans", sans-serif' textLength="23.3" lengthAdjust="spacingAndGlyphs">741</text><text x="951.5" y="425" font-size="12.5" fill="#000" font-family='"Liberation Sans", sans-serif' textLength="23.3" lengthAdjust="spacingAndGlyphs">742</text><text x="951.5" y="407" font-size="12.5" fill="#000" font-family='"Liberation Sans", sans-serif' textLength="23.3" lengthAdjust="spacingAndGlyphs">743</text><text x="951.5" y="390" font-size="12.5" fill="#000" font-family='"Liberation Sans", sans-serif' textLength="23.3" lengthAdjust="spacingAndGlyphs">744</text><text x="951.5" y="373" font-size="12.5" fill="#000" font-family='"Liberation Sans", sans-serif' textLength="23.3" lengthAdjust="spacingAndGlyphs">745</text><text x="951.5" y="356" font-size="12.5" fill="#000" font-family='"Liberation Sans", sans-serif' textLength="23.3" lengthAdjust="spacingAndGlyphs">746</text><text x="951.5" y="339" font-size="12.5" fill="#000" font-family='"Liberation Sans", sans-serif' textLength="23.3" lengthAdjust="spacingAndGlyphs">747</text><text x="951.5" y="321" font-size="12.5" fill="#000" font-family='"Liberation Sans", sans-serif' textLength="23.3" lengthAdjust="spacingAndGlyphs">748</text><text x="951.5" y="304" font-size="12.5" fill="#000" font-family='"Liberation Sans", sans-serif' textLength="23.3" lengthAdjust="spacingAndGlyphs">749</text><text x="951.5" y="287" font-size="12.5" fill="#000" font-family='"Liberation Sans", sans-serif' textLength="23.3" lengthAdjust="spacingAndGlyphs">750</text><text x="951.5" y="270" font-size="12.5" fill="#000" font-family='"Liberation Sans", sans-serif' textLength="23.3" lengthAdjust="spacingAndGlyphs">751</text><text x="951.5" y="252" font-size="12.5" fill="#000" font-family='"Liberation Sans", sans-serif' textLength="23.3" lengthAdjust="spacingAndGlyphs">752</text><text x="951.5" y="235" font-size="12.5" fill="#000" font-family='"Liberation Sans", sans-serif' textLength="23.3" lengthAdjust="spacingAndGlyphs">753</text><text x="951.5" y="218" font-size="12.5" fill="#000" font-family='"Liberation Sans", sans-serif' textLength="23.3" lengthAdjust="spacingAndGlyphs">754</text><text x="951.5" y="201" font-size="12.5" fill="#000" font-family='"Liberation Sans", sans-serif' textLength="23.3" lengthAdjust="spacingAndGlyphs">755</text><text x="951.5" y="183" font-size="12.5" fill="#000" font-family='"Liberation Sans", sans-serif' textLength="23.3" lengthAdjust="spacingAndGlyphs">756</text><text x="951.5" y="166" font-size="12.5" fill="#000" font-family='"Liberation Sans", sans-serif' textLength="23.3" lengthAdjust="spacingAndGlyphs">757</text><text x="951.5" y="149" font-size="12.5" fill="#000" font-family='"Liberation Sans", sans-serif' textLength="23.3" lengthAdjust="spacingAndGlyphs">758</text><text x="951.5" y="132" font-size="12.5" fill="#000" font-family='"Liberation Sans", sans-serif' textLength="23.3" lengthAdjust="spacingAndGlyphs">759</text><text x="951.5" y="114" font-size="12.5" fill="#000" font-family='"Liberation Sans", sans-serif' textLength="23.3" lengthAdjust="spacingAndGlyphs">760</text><text x="951.5" y="97" font-size="12.5" fill="#000" font-family='"Liberation Sans", sans-serif' textLength="23.3" lengthAdjust="spacingAndGlyphs">761</text><text x="951.5" y="80" font-size="12.5" fill="#000" font-family='"Liberation Sans", sans-serif' textLength="23.3" lengthAdjust="spacingAndGlyphs">762</text><text x="951.5" y="63" font-size="12.5" fill="#000" font-family='"Liberation Sans", sans-serif' textLength="23.3" lengthAdjust="spacingAndGlyphs">763</text><text x="951.5" y="45" font-size="12.5" fill="#000" font-family='"Liberation Sans", sans-serif' textLength="23.3" lengthAdjust="spacingAndGlyphs">764</text><text x="951.5" y="28" font-size="12.5" fill="#000" font-family='"Liberation Sans", sans-serif' textLength="23.3" lengthAdjust="spacingAndGlyphs">765</text><text x="264.8" y="608" font-size="12.5" fill="#000" font-family='"Liberation Sans", sans-serif' textLength="15" lengthAdjust="spacingAndGlyphs">27</text><text x="546.6" y="608" font-size="12.5" fill="#000" font-family='"Liberation Sans", sans-serif' textLength="15" lengthAdjust="spacingAndGlyphs">28</text><text x="859.4" y="89" font-size="12.5" fill="#0000ff" font-family='"Liberation Sans", sans-serif' textLength="14.8" lengthAdjust="spacingAndGlyphs">m'</text><text x="849.6" y="421" font-size="12.5" fill="#0000ff" font-family='"Liberation Sans", sans-serif' textLength="10.0" lengthAdjust="spacingAndGlyphs">m</text><text x="10.6" y="576" font-size="12.5" fill="#000" font-family='"Liberation Sans", sans-serif' textLength="12.2" lengthAdjust="spacingAndGlyphs">©</text><text x="29.2" y="576" font-size="12.5" fill="#000" font-family='"Liberation Sans", sans-serif' textLength="27.5" lengthAdjust="spacingAndGlyphs">ADN</text><text x="61.0" y="576" font-size="12.5" fill="#000" font-family='"Liberation Sans", sans-serif' textLength="88.4" lengthAdjust="spacingAndGlyphs">Beursanalyse</text></svg></body></html>
